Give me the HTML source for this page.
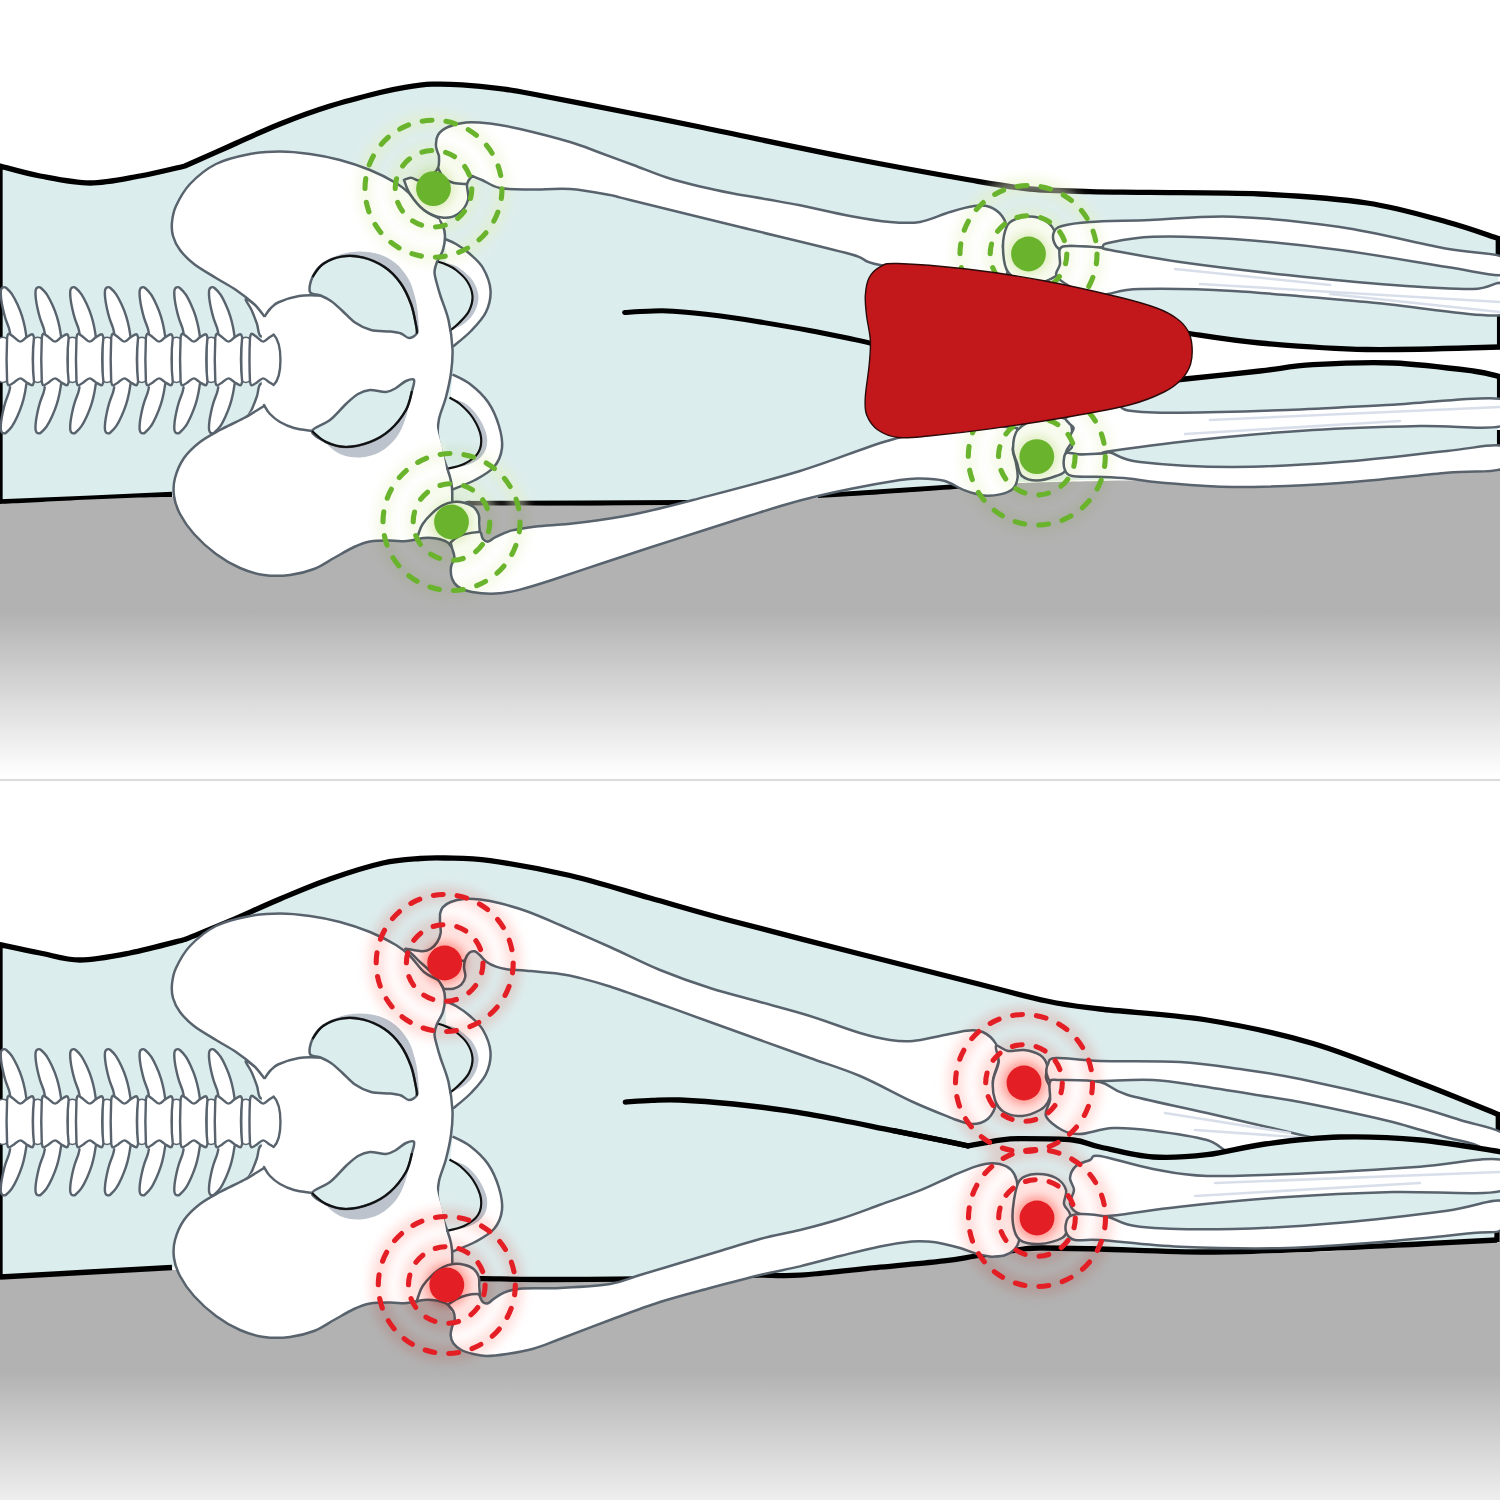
<!DOCTYPE html>
<html lang="en"><head><meta charset="utf-8"><title>Illustration</title><style>html,body{margin:0;padding:0;background:#fff}svg{display:block}</style></head><body>
<svg width="1500" height="1500" viewBox="0 0 1500 1500">
<defs>
<linearGradient id="gTop" gradientUnits="userSpaceOnUse" x1="0" y1="612" x2="0" y2="777"><stop offset="0" stop-color="#b2b2b2"/><stop offset="1" stop-color="#fff"/></linearGradient>
<linearGradient id="gBot" gradientUnits="userSpaceOnUse" x1="0" y1="1372" x2="0" y2="1536"><stop offset="0" stop-color="#b2b2b2"/><stop offset="1" stop-color="#fff"/></linearGradient>
<linearGradient id="gSep" gradientUnits="userSpaceOnUse" x1="0" y1="764" x2="0" y2="779"><stop offset="0" stop-color="#fff"/><stop offset="1" stop-color="#f0f0f0"/></linearGradient>
<filter id="bl6" filterUnits="userSpaceOnUse" x="0" y="0" width="1500" height="1500"><feGaussianBlur stdDeviation="6"/></filter>
<filter id="bl9" filterUnits="userSpaceOnUse" x="0" y="0" width="1500" height="1500"><feGaussianBlur stdDeviation="9"/></filter>
</defs>
<rect width="1500" height="1500" fill="#fff"/>
<g>
<path d="M0 166C6.7 167.7 25 173.2 40 176C55 178.8 73.3 183 90 183C106.7 183 124.2 178.8 140 176C155.8 173.2 177.5 167.7 185 166C192.5 162.7 214.2 153 230 146C245.8 139 263.3 130.7 280 124C296.7 117.3 313.3 111.2 330 106C346.7 100.8 367.5 95.6 380 92.5C392.5 89.4 396.3 88.7 405 87.3C413.7 85.9 422.5 84.6 432 84.2C441.5 83.8 450.7 84.1 462 84.8C473.3 85.5 488.7 87.1 500 88.6C511.3 90 508.3 89.4 530 93.5C551.7 97.6 601.7 107.4 630 113C658.3 118.6 663.3 119.5 700 127C736.7 134.5 805 149.2 850 158C895 166.8 940 174.8 970 180C1000 185.2 1010 187.1 1030 189C1050 190.9 1070 191 1090 191.6C1110 192.2 1121.7 192 1150 192.4C1178.3 192.8 1223.8 192.2 1260 194C1296.2 195.8 1335.8 198.3 1367 203C1398.2 207.7 1425.1 216.1 1447 222C1468.9 227.9 1489.8 235.8 1498.3 238.5L1498 469C1465 470.2 1366.3 474.2 1300 476C1233.7 477.8 1150 478.3 1100 479.5C1050 480.7 1024.2 481.8 1000 483C975.8 484.2 982.5 485 955 487C927.5 489 880.3 492.4 835 495C789.7 497.6 740.8 501.3 683 502.7C625.2 504.1 548.5 503.8 488 503.5C427.5 503.2 372.7 502.5 320 501C267.3 499.5 225.3 494.3 172 494.5C118.7 494.7 28.7 500.8 0 502Z" fill="#dcedee"/>
<path d="M1180 331C1182 331.5 1178.7 332 1192 334C1205.3 336 1230.8 340.4 1260 343C1289.2 345.6 1327 348.8 1367 349.5C1407 350.2 1477.8 347.4 1500 347L1500 376.7C1495.5 375.8 1490.8 373.3 1473 371C1455.2 368.7 1419.7 364.1 1393 363C1366.3 361.9 1335.2 363.4 1313 364.7C1290.8 366 1281.3 368.6 1260 371C1238.7 373.4 1200 377.3 1185 379C1170 380.7 1172.5 380.7 1170 381Z" fill="#fff"/>
<path d="M0 504L0 166C6.7 167.7 25 173.2 40 176C55 178.8 73.3 183 90 183C106.7 183 124.2 178.8 140 176C155.8 173.2 177.5 167.7 185 166C192.5 162.7 214.2 153 230 146C245.8 139 263.3 130.7 280 124C296.7 117.3 313.3 111.2 330 106C346.7 100.8 367.5 95.6 380 92.5C392.5 89.4 396.3 88.7 405 87.3C413.7 85.9 422.5 84.6 432 84.2C441.5 83.8 450.7 84.1 462 84.8C473.3 85.5 488.7 87.1 500 88.6C511.3 90 508.3 89.4 530 93.5C551.7 97.6 601.7 107.4 630 113C658.3 118.6 663.3 119.5 700 127C736.7 134.5 805 149.2 850 158C895 166.8 940 174.8 970 180C1000 185.2 1010 187.1 1030 189C1050 190.9 1070 191 1090 191.6C1110 192.2 1121.7 192 1150 192.4C1178.3 192.8 1223.8 192.2 1260 194C1296.2 195.8 1335.8 198.3 1367 203C1398.2 207.7 1425.1 216.1 1447 222C1468.9 227.9 1489.8 235.8 1498.3 238.5L1498.3 255" fill="none" stroke="#000" stroke-width="5.3" stroke-linejoin="miter"/>
<path d="M0 502C28.7 500.8 143.3 495.8 172 494.5" fill="none" stroke="#000" stroke-width="5.3"/>
<path d="M470 503.5C473 503.5 452.5 503.6 488 503.5C523.5 503.4 647.7 502.9 683 502.7C718.3 502.4 697.2 502.1 700 502" fill="none" stroke="#000" stroke-width="5.3"/>
<path d="M820 496C822.5 495.8 812.5 496.5 835 495C857.5 493.5 931.7 488.6 955 487C978.3 485.4 971.7 485.8 975 485.5" fill="none" stroke="#000" stroke-width="5.3"/>
<path d="M1180 331C1182 331.5 1178.7 332 1192 334C1205.3 336 1230.8 340.4 1260 343C1289.2 345.6 1327 348.8 1367 349.5C1407 350.2 1477.8 347.4 1500 347" fill="none" stroke="#000" stroke-width="5.3"/>
<path d="M1500 376.7C1495.5 375.8 1490.8 373.3 1473 371C1455.2 368.7 1419.7 364.1 1393 363C1366.3 361.9 1335.2 363.4 1313 364.7C1290.8 366 1281.3 368.6 1260 371C1238.7 373.4 1200 377.3 1185 379C1170 380.7 1172.5 380.7 1170 381" fill="none" stroke="#000" stroke-width="5.3"/>
<path d="M1499.6 310L1499.6 349M1499.6 374L1499.6 406M1499.6 430L1499.6 446M1499.6 463L1499.6 471" fill="none" stroke="#000" stroke-width="5.3"/>
<path d="M624.6 312.4C628.5 312.2 639.9 311.4 648 311.2C656.1 311 661.2 310.4 673 311.2C684.8 312 703.5 313.9 718.7 315.8C733.9 317.7 748.9 320.2 764 322.6C779.1 325.1 794.3 327.7 809.4 330.5C824.5 333.3 844.5 337.5 854.8 339.6C865.1 341.7 868.3 342.7 871 343.3" fill="none" stroke="#000" stroke-width="5" stroke-linecap="round"/>
<g filter="url(#bl6)" opacity="0.55" fill="none" stroke="#f7fbe9" stroke-width="15"><circle cx="433.5" cy="188.7" r="38.3"/><circle cx="433.5" cy="188.7" r="68.5"/><circle cx="433.5" cy="188.7" r="26" fill="#f7fbe9" stroke="none"/><circle cx="451.5" cy="522" r="38.3"/><circle cx="451.5" cy="522" r="68.5"/><circle cx="451.5" cy="522" r="26" fill="#f7fbe9" stroke="none"/><circle cx="1028.5" cy="254" r="38.3"/><circle cx="1028.5" cy="254" r="68.5"/><circle cx="1028.5" cy="254" r="26" fill="#f7fbe9" stroke="none"/><circle cx="1036.8" cy="456.6" r="38.3"/><circle cx="1036.8" cy="456.6" r="68.5"/><circle cx="1036.8" cy="456.6" r="26" fill="#f7fbe9" stroke="none"/></g>
<path d="M0 504C28.7 502.8 118.7 497.2 172 497C225.3 496.8 267.3 501.6 320 503C372.7 504.4 427.5 505.2 488 505.5C548.5 505.8 625.2 506.4 683 505C740.8 503.6 789.7 499.7 835 497C880.3 494.3 927.5 491.2 955 489C982.5 486.8 975.8 485.3 1000 484C1024.2 482.7 1050 482 1100 481C1150 480 1233.3 479.7 1300 478C1366.7 476.3 1466.7 472.2 1500 471L1500 779L0 779Z" fill="url(#gTop)"/>
<g><path d="M10.1 333.2C9.9 332.3 9.6 330.2 8.8 327.7C8 325.2 6.4 321.5 5.4 318.3C4.4 315.1 3.5 311.6 2.8 308.3C2.1 305 1.4 301.1 1.1 298.3C0.8 295.5 0.7 293.2 0.8 291.5C0.9 289.8 1.3 289 1.8 288.3C2.3 287.6 2.8 287.2 3.6 287.2C4.3 287.1 4.9 286.8 6.3 288C7.7 289.2 10.2 291.6 12.1 294.3C13.9 297 15.7 300.6 17.4 304.3C19.1 308 20.9 312.5 22.1 316.3C23.3 320.1 24.1 323.6 24.8 327C25.5 330.4 26.1 334.9 26.4 336.5L26.4 346L10.1 346Z" fill="#fff"/>
<path d="M10.1 333.2C9.9 332.3 9.6 330.2 8.8 327.7C8 325.2 6.4 321.5 5.4 318.3C4.4 315.1 3.5 311.6 2.8 308.3C2.1 305 1.4 301.1 1.1 298.3C0.8 295.5 0.7 293.2 0.8 291.5C0.9 289.8 1.3 289 1.8 288.3C2.3 287.6 2.8 287.2 3.6 287.2C4.3 287.1 4.9 286.8 6.3 288C7.7 289.2 10.2 291.6 12.1 294.3C13.9 297 15.7 300.6 17.4 304.3C19.1 308 20.9 312.5 22.1 316.3C23.3 320.1 24.1 323.6 24.8 327C25.5 330.4 26.1 334.9 26.4 336.5" fill="none" stroke="#58636d" stroke-width="2.4" stroke-linecap="round"/>
<path d="M10.1 387.3C9.9 388.2 9.6 390.3 8.8 392.8C8 395.3 6.4 399 5.4 402.2C4.4 405.4 3.5 408.9 2.8 412.2C2.1 415.5 1.4 419.4 1.1 422.2C0.8 425 0.7 427.3 0.8 429C0.9 430.7 1.3 431.5 1.8 432.2C2.3 432.9 2.8 433.2 3.6 433.3C4.3 433.4 4.9 433.7 6.3 432.5C7.7 431.3 10.2 428.9 12.1 426.2C13.9 423.5 15.7 419.9 17.4 416.2C19.1 412.5 20.9 408 22.1 404.2C23.3 400.4 24.1 396.9 24.8 393.5C25.5 390.1 26.1 385.6 26.4 384L26.4 374L10.1 374Z" fill="#fff"/>
<path d="M10.1 387.3C9.9 388.2 9.6 390.3 8.8 392.8C8 395.3 6.4 399 5.4 402.2C4.4 405.4 3.5 408.9 2.8 412.2C2.1 415.5 1.4 419.4 1.1 422.2C0.8 425 0.7 427.3 0.8 429C0.9 430.7 1.3 431.5 1.8 432.2C2.3 432.9 2.8 433.2 3.6 433.3C4.3 433.4 4.9 433.7 6.3 432.5C7.7 431.3 10.2 428.9 12.1 426.2C13.9 423.5 15.7 419.9 17.4 416.2C19.1 412.5 20.9 408 22.1 404.2C23.3 400.4 24.1 396.9 24.8 393.5C25.5 390.1 26.1 385.6 26.4 384" fill="none" stroke="#58636d" stroke-width="2.4" stroke-linecap="round"/>
<path d="M44.8 333.2C44.6 332.3 44.3 330.2 43.5 327.7C42.7 325.2 41.1 321.5 40.1 318.3C39.1 315.1 38.2 311.6 37.5 308.3C36.8 305 36.1 301.1 35.8 298.3C35.5 295.5 35.4 293.2 35.5 291.5C35.6 289.8 36 289 36.5 288.3C37 287.6 37.5 287.2 38.3 287.2C39 287.1 39.6 286.8 41 288C42.4 289.2 44.9 291.6 46.8 294.3C48.6 297 50.4 300.6 52.1 304.3C53.8 308 55.6 312.5 56.8 316.3C58 320.1 58.8 323.6 59.5 327C60.2 330.4 60.8 334.9 61.1 336.5L61.1 346L44.8 346Z" fill="#fff"/>
<path d="M44.8 333.2C44.6 332.3 44.3 330.2 43.5 327.7C42.7 325.2 41.1 321.5 40.1 318.3C39.1 315.1 38.2 311.6 37.5 308.3C36.8 305 36.1 301.1 35.8 298.3C35.5 295.5 35.4 293.2 35.5 291.5C35.6 289.8 36 289 36.5 288.3C37 287.6 37.5 287.2 38.3 287.2C39 287.1 39.6 286.8 41 288C42.4 289.2 44.9 291.6 46.8 294.3C48.6 297 50.4 300.6 52.1 304.3C53.8 308 55.6 312.5 56.8 316.3C58 320.1 58.8 323.6 59.5 327C60.2 330.4 60.8 334.9 61.1 336.5" fill="none" stroke="#58636d" stroke-width="2.4" stroke-linecap="round"/>
<path d="M44.8 387.3C44.6 388.2 44.3 390.3 43.5 392.8C42.7 395.3 41.1 399 40.1 402.2C39.1 405.4 38.2 408.9 37.5 412.2C36.8 415.5 36.1 419.4 35.8 422.2C35.5 425 35.4 427.3 35.5 429C35.6 430.7 36 431.5 36.5 432.2C37 432.9 37.5 433.2 38.3 433.3C39 433.4 39.6 433.7 41 432.5C42.4 431.3 44.9 428.9 46.8 426.2C48.6 423.5 50.4 419.9 52.1 416.2C53.8 412.5 55.6 408 56.8 404.2C58 400.4 58.8 396.9 59.5 393.5C60.2 390.1 60.8 385.6 61.1 384L61.1 374L44.8 374Z" fill="#fff"/>
<path d="M44.8 387.3C44.6 388.2 44.3 390.3 43.5 392.8C42.7 395.3 41.1 399 40.1 402.2C39.1 405.4 38.2 408.9 37.5 412.2C36.8 415.5 36.1 419.4 35.8 422.2C35.5 425 35.4 427.3 35.5 429C35.6 430.7 36 431.5 36.5 432.2C37 432.9 37.5 433.2 38.3 433.3C39 433.4 39.6 433.7 41 432.5C42.4 431.3 44.9 428.9 46.8 426.2C48.6 423.5 50.4 419.9 52.1 416.2C53.8 412.5 55.6 408 56.8 404.2C58 400.4 58.8 396.9 59.5 393.5C60.2 390.1 60.8 385.6 61.1 384" fill="none" stroke="#58636d" stroke-width="2.4" stroke-linecap="round"/>
<path d="M79.5 333.2C79.3 332.3 79 330.2 78.2 327.7C77.4 325.2 75.8 321.5 74.8 318.3C73.8 315.1 72.9 311.6 72.2 308.3C71.5 305 70.8 301.1 70.5 298.3C70.2 295.5 70.1 293.2 70.2 291.5C70.3 289.8 70.7 289 71.2 288.3C71.7 287.6 72.2 287.2 73 287.2C73.8 287.1 74.3 286.8 75.7 288C77.1 289.2 79.7 291.6 81.5 294.3C83.3 297 85.1 300.6 86.8 304.3C88.5 308 90.3 312.5 91.5 316.3C92.7 320.1 93.5 323.6 94.2 327C94.9 330.4 95.5 334.9 95.8 336.5L95.8 346L79.5 346Z" fill="#fff"/>
<path d="M79.5 333.2C79.3 332.3 79 330.2 78.2 327.7C77.4 325.2 75.8 321.5 74.8 318.3C73.8 315.1 72.9 311.6 72.2 308.3C71.5 305 70.8 301.1 70.5 298.3C70.2 295.5 70.1 293.2 70.2 291.5C70.3 289.8 70.7 289 71.2 288.3C71.7 287.6 72.2 287.2 73 287.2C73.8 287.1 74.3 286.8 75.7 288C77.1 289.2 79.7 291.6 81.5 294.3C83.3 297 85.1 300.6 86.8 304.3C88.5 308 90.3 312.5 91.5 316.3C92.7 320.1 93.5 323.6 94.2 327C94.9 330.4 95.5 334.9 95.8 336.5" fill="none" stroke="#58636d" stroke-width="2.4" stroke-linecap="round"/>
<path d="M79.5 387.3C79.3 388.2 79 390.3 78.2 392.8C77.4 395.3 75.8 399 74.8 402.2C73.8 405.4 72.9 408.9 72.2 412.2C71.5 415.5 70.8 419.4 70.5 422.2C70.2 425 70.1 427.3 70.2 429C70.3 430.7 70.7 431.5 71.2 432.2C71.7 432.9 72.2 433.2 73 433.3C73.8 433.4 74.3 433.7 75.7 432.5C77.1 431.3 79.7 428.9 81.5 426.2C83.3 423.5 85.1 419.9 86.8 416.2C88.5 412.5 90.3 408 91.5 404.2C92.7 400.4 93.5 396.9 94.2 393.5C94.9 390.1 95.5 385.6 95.8 384L95.8 374L79.5 374Z" fill="#fff"/>
<path d="M79.5 387.3C79.3 388.2 79 390.3 78.2 392.8C77.4 395.3 75.8 399 74.8 402.2C73.8 405.4 72.9 408.9 72.2 412.2C71.5 415.5 70.8 419.4 70.5 422.2C70.2 425 70.1 427.3 70.2 429C70.3 430.7 70.7 431.5 71.2 432.2C71.7 432.9 72.2 433.2 73 433.3C73.8 433.4 74.3 433.7 75.7 432.5C77.1 431.3 79.7 428.9 81.5 426.2C83.3 423.5 85.1 419.9 86.8 416.2C88.5 412.5 90.3 408 91.5 404.2C92.7 400.4 93.5 396.9 94.2 393.5C94.9 390.1 95.5 385.6 95.8 384" fill="none" stroke="#58636d" stroke-width="2.4" stroke-linecap="round"/>
<path d="M114.2 333.2C114 332.3 113.7 330.2 112.9 327.7C112.1 325.2 110.5 321.5 109.5 318.3C108.5 315.1 107.6 311.6 106.9 308.3C106.2 305 105.5 301.1 105.2 298.3C104.9 295.5 104.8 293.2 104.9 291.5C105 289.8 105.4 289 105.9 288.3C106.4 287.6 107 287.2 107.7 287.2C108.5 287.1 109 286.8 110.4 288C111.8 289.2 114.4 291.6 116.2 294.3C118 297 119.8 300.6 121.5 304.3C123.2 308 125 312.5 126.2 316.3C127.4 320.1 128.2 323.6 128.9 327C129.6 330.4 130.2 334.9 130.5 336.5L130.5 346L114.2 346Z" fill="#fff"/>
<path d="M114.2 333.2C114 332.3 113.7 330.2 112.9 327.7C112.1 325.2 110.5 321.5 109.5 318.3C108.5 315.1 107.6 311.6 106.9 308.3C106.2 305 105.5 301.1 105.2 298.3C104.9 295.5 104.8 293.2 104.9 291.5C105 289.8 105.4 289 105.9 288.3C106.4 287.6 107 287.2 107.7 287.2C108.5 287.1 109 286.8 110.4 288C111.8 289.2 114.4 291.6 116.2 294.3C118 297 119.8 300.6 121.5 304.3C123.2 308 125 312.5 126.2 316.3C127.4 320.1 128.2 323.6 128.9 327C129.6 330.4 130.2 334.9 130.5 336.5" fill="none" stroke="#58636d" stroke-width="2.4" stroke-linecap="round"/>
<path d="M114.2 387.3C114 388.2 113.7 390.3 112.9 392.8C112.1 395.3 110.5 399 109.5 402.2C108.5 405.4 107.6 408.9 106.9 412.2C106.2 415.5 105.5 419.4 105.2 422.2C104.9 425 104.8 427.3 104.9 429C105 430.7 105.4 431.5 105.9 432.2C106.4 432.9 107 433.2 107.7 433.3C108.5 433.4 109 433.7 110.4 432.5C111.8 431.3 114.4 428.9 116.2 426.2C118 423.5 119.8 419.9 121.5 416.2C123.2 412.5 125 408 126.2 404.2C127.4 400.4 128.2 396.9 128.9 393.5C129.6 390.1 130.2 385.6 130.5 384L130.5 374L114.2 374Z" fill="#fff"/>
<path d="M114.2 387.3C114 388.2 113.7 390.3 112.9 392.8C112.1 395.3 110.5 399 109.5 402.2C108.5 405.4 107.6 408.9 106.9 412.2C106.2 415.5 105.5 419.4 105.2 422.2C104.9 425 104.8 427.3 104.9 429C105 430.7 105.4 431.5 105.9 432.2C106.4 432.9 107 433.2 107.7 433.3C108.5 433.4 109 433.7 110.4 432.5C111.8 431.3 114.4 428.9 116.2 426.2C118 423.5 119.8 419.9 121.5 416.2C123.2 412.5 125 408 126.2 404.2C127.4 400.4 128.2 396.9 128.9 393.5C129.6 390.1 130.2 385.6 130.5 384" fill="none" stroke="#58636d" stroke-width="2.4" stroke-linecap="round"/>
<path d="M148.9 333.2C148.7 332.3 148.4 330.2 147.6 327.7C146.8 325.2 145.2 321.5 144.2 318.3C143.2 315.1 142.3 311.6 141.6 308.3C140.9 305 140.2 301.1 139.9 298.3C139.6 295.5 139.5 293.2 139.6 291.5C139.7 289.8 140.1 289 140.6 288.3C141.1 287.6 141.7 287.2 142.4 287.2C143.2 287.1 143.7 286.8 145.1 288C146.5 289.2 149.1 291.6 150.9 294.3C152.8 297 154.5 300.6 156.2 304.3C157.9 308 159.7 312.5 160.9 316.3C162.1 320.1 162.9 323.6 163.6 327C164.3 330.4 164.9 334.9 165.2 336.5L165.2 346L148.9 346Z" fill="#fff"/>
<path d="M148.9 333.2C148.7 332.3 148.4 330.2 147.6 327.7C146.8 325.2 145.2 321.5 144.2 318.3C143.2 315.1 142.3 311.6 141.6 308.3C140.9 305 140.2 301.1 139.9 298.3C139.6 295.5 139.5 293.2 139.6 291.5C139.7 289.8 140.1 289 140.6 288.3C141.1 287.6 141.7 287.2 142.4 287.2C143.2 287.1 143.7 286.8 145.1 288C146.5 289.2 149.1 291.6 150.9 294.3C152.8 297 154.5 300.6 156.2 304.3C157.9 308 159.7 312.5 160.9 316.3C162.1 320.1 162.9 323.6 163.6 327C164.3 330.4 164.9 334.9 165.2 336.5" fill="none" stroke="#58636d" stroke-width="2.4" stroke-linecap="round"/>
<path d="M148.9 387.3C148.7 388.2 148.4 390.3 147.6 392.8C146.8 395.3 145.2 399 144.2 402.2C143.2 405.4 142.3 408.9 141.6 412.2C140.9 415.5 140.2 419.4 139.9 422.2C139.6 425 139.5 427.3 139.6 429C139.7 430.7 140.1 431.5 140.6 432.2C141.1 432.9 141.7 433.2 142.4 433.3C143.2 433.4 143.7 433.7 145.1 432.5C146.5 431.3 149.1 428.9 150.9 426.2C152.8 423.5 154.5 419.9 156.2 416.2C157.9 412.5 159.7 408 160.9 404.2C162.1 400.4 162.9 396.9 163.6 393.5C164.3 390.1 164.9 385.6 165.2 384L165.2 374L148.9 374Z" fill="#fff"/>
<path d="M148.9 387.3C148.7 388.2 148.4 390.3 147.6 392.8C146.8 395.3 145.2 399 144.2 402.2C143.2 405.4 142.3 408.9 141.6 412.2C140.9 415.5 140.2 419.4 139.9 422.2C139.6 425 139.5 427.3 139.6 429C139.7 430.7 140.1 431.5 140.6 432.2C141.1 432.9 141.7 433.2 142.4 433.3C143.2 433.4 143.7 433.7 145.1 432.5C146.5 431.3 149.1 428.9 150.9 426.2C152.8 423.5 154.5 419.9 156.2 416.2C157.9 412.5 159.7 408 160.9 404.2C162.1 400.4 162.9 396.9 163.6 393.5C164.3 390.1 164.9 385.6 165.2 384" fill="none" stroke="#58636d" stroke-width="2.4" stroke-linecap="round"/>
<path d="M183.6 333.2C183.4 332.3 183.1 330.2 182.3 327.7C181.5 325.2 179.9 321.5 178.9 318.3C177.9 315.1 177 311.6 176.3 308.3C175.6 305 174.9 301.1 174.6 298.3C174.3 295.5 174.2 293.2 174.3 291.5C174.4 289.8 174.8 289 175.3 288.3C175.8 287.6 176.4 287.2 177.1 287.2C177.9 287.1 178.4 286.8 179.8 288C181.2 289.2 183.8 291.6 185.6 294.3C187.5 297 189.2 300.6 190.9 304.3C192.6 308 194.4 312.5 195.6 316.3C196.8 320.1 197.6 323.6 198.3 327C199 330.4 199.6 334.9 199.9 336.5L199.9 346L183.6 346Z" fill="#fff"/>
<path d="M183.6 333.2C183.4 332.3 183.1 330.2 182.3 327.7C181.5 325.2 179.9 321.5 178.9 318.3C177.9 315.1 177 311.6 176.3 308.3C175.6 305 174.9 301.1 174.6 298.3C174.3 295.5 174.2 293.2 174.3 291.5C174.4 289.8 174.8 289 175.3 288.3C175.8 287.6 176.4 287.2 177.1 287.2C177.9 287.1 178.4 286.8 179.8 288C181.2 289.2 183.8 291.6 185.6 294.3C187.5 297 189.2 300.6 190.9 304.3C192.6 308 194.4 312.5 195.6 316.3C196.8 320.1 197.6 323.6 198.3 327C199 330.4 199.6 334.9 199.9 336.5" fill="none" stroke="#58636d" stroke-width="2.4" stroke-linecap="round"/>
<path d="M183.6 387.3C183.4 388.2 183.1 390.3 182.3 392.8C181.5 395.3 179.9 399 178.9 402.2C177.9 405.4 177 408.9 176.3 412.2C175.6 415.5 174.9 419.4 174.6 422.2C174.3 425 174.2 427.3 174.3 429C174.4 430.7 174.8 431.5 175.3 432.2C175.8 432.9 176.4 433.2 177.1 433.3C177.9 433.4 178.4 433.7 179.8 432.5C181.2 431.3 183.8 428.9 185.6 426.2C187.5 423.5 189.2 419.9 190.9 416.2C192.6 412.5 194.4 408 195.6 404.2C196.8 400.4 197.6 396.9 198.3 393.5C199 390.1 199.6 385.6 199.9 384L199.9 374L183.6 374Z" fill="#fff"/>
<path d="M183.6 387.3C183.4 388.2 183.1 390.3 182.3 392.8C181.5 395.3 179.9 399 178.9 402.2C177.9 405.4 177 408.9 176.3 412.2C175.6 415.5 174.9 419.4 174.6 422.2C174.3 425 174.2 427.3 174.3 429C174.4 430.7 174.8 431.5 175.3 432.2C175.8 432.9 176.4 433.2 177.1 433.3C177.9 433.4 178.4 433.7 179.8 432.5C181.2 431.3 183.8 428.9 185.6 426.2C187.5 423.5 189.2 419.9 190.9 416.2C192.6 412.5 194.4 408 195.6 404.2C196.8 400.4 197.6 396.9 198.3 393.5C199 390.1 199.6 385.6 199.9 384" fill="none" stroke="#58636d" stroke-width="2.4" stroke-linecap="round"/>
<path d="M218.3 333.2C218.1 332.3 217.8 330.2 217 327.7C216.2 325.2 214.6 321.5 213.6 318.3C212.6 315.1 211.7 311.6 211 308.3C210.3 305 209.6 301.1 209.3 298.3C209 295.5 208.9 293.2 209 291.5C209.1 289.8 209.5 289 210 288.3C210.5 287.6 211.1 287.2 211.8 287.2C212.6 287.1 213.1 286.8 214.5 288C215.9 289.2 218.5 291.6 220.3 294.3C222.2 297 223.9 300.6 225.6 304.3C227.3 308 229.1 312.5 230.3 316.3C231.5 320.1 232.3 323.6 233 327C233.7 330.4 234.3 334.9 234.6 336.5L234.6 346L218.3 346Z" fill="#fff"/>
<path d="M218.3 333.2C218.1 332.3 217.8 330.2 217 327.7C216.2 325.2 214.6 321.5 213.6 318.3C212.6 315.1 211.7 311.6 211 308.3C210.3 305 209.6 301.1 209.3 298.3C209 295.5 208.9 293.2 209 291.5C209.1 289.8 209.5 289 210 288.3C210.5 287.6 211.1 287.2 211.8 287.2C212.6 287.1 213.1 286.8 214.5 288C215.9 289.2 218.5 291.6 220.3 294.3C222.2 297 223.9 300.6 225.6 304.3C227.3 308 229.1 312.5 230.3 316.3C231.5 320.1 232.3 323.6 233 327C233.7 330.4 234.3 334.9 234.6 336.5" fill="none" stroke="#58636d" stroke-width="2.4" stroke-linecap="round"/>
<path d="M218.3 387.3C218.1 388.2 217.8 390.3 217 392.8C216.2 395.3 214.6 399 213.6 402.2C212.6 405.4 211.7 408.9 211 412.2C210.3 415.5 209.6 419.4 209.3 422.2C209 425 208.9 427.3 209 429C209.1 430.7 209.5 431.5 210 432.2C210.5 432.9 211.1 433.2 211.8 433.3C212.6 433.4 213.1 433.7 214.5 432.5C215.9 431.3 218.5 428.9 220.3 426.2C222.2 423.5 223.9 419.9 225.6 416.2C227.3 412.5 229.1 408 230.3 404.2C231.5 400.4 232.3 396.9 233 393.5C233.7 390.1 234.3 385.6 234.6 384L234.6 374L218.3 374Z" fill="#fff"/>
<path d="M218.3 387.3C218.1 388.2 217.8 390.3 217 392.8C216.2 395.3 214.6 399 213.6 402.2C212.6 405.4 211.7 408.9 211 412.2C210.3 415.5 209.6 419.4 209.3 422.2C209 425 208.9 427.3 209 429C209.1 430.7 209.5 431.5 210 432.2C210.5 432.9 211.1 433.2 211.8 433.3C212.6 433.4 213.1 433.7 214.5 432.5C215.9 431.3 218.5 428.9 220.3 426.2C222.2 423.5 223.9 419.9 225.6 416.2C227.3 412.5 229.1 408 230.3 404.2C231.5 400.4 232.3 396.9 233 393.5C233.7 390.1 234.3 385.6 234.6 384" fill="none" stroke="#58636d" stroke-width="2.4" stroke-linecap="round"/>
<path d="M246 299C244.2 299 250.2 306.8 252 311C253.8 315.2 255.6 319.8 257 324C258.4 328.2 258 334 260.5 336C263 338 270.6 338 272 336C273.4 334 270.6 328.2 269 324C267.4 319.8 266.3 315.2 262.5 311C258.7 306.8 247.8 299 246 299Z" fill="#fff" stroke="#58636d" stroke-width="2.4"/>
<path d="M246 421C244.2 421 250.2 413.2 252 409C253.8 404.8 255.6 400.2 257 396C258.4 391.8 258 386 260.5 384C263 382 270.6 382 272 384C273.4 386 270.6 391.8 269 396C267.4 400.2 266.3 404.8 262.5 409C258.7 413.2 247.8 421 246 421Z" fill="#fff" stroke="#58636d" stroke-width="2.4"/>
<path d="M-1.3 339C0.7 336.5 5.2 336.5 7.2 339L7.2 380.5C5.2 383 0.7 383 -1.3 380.5Z" fill="#fff" stroke="#58636d" stroke-width="1.5"/>
<path d="M33.4 339C35.4 336.5 39.9 336.5 41.9 339L41.9 380.5C39.9 383 35.4 383 33.4 380.5Z" fill="#fff" stroke="#58636d" stroke-width="1.5"/>
<path d="M68.1 339C70.1 336.5 74.6 336.5 76.6 339L76.6 380.5C74.6 383 70.1 383 68.1 380.5Z" fill="#fff" stroke="#58636d" stroke-width="1.5"/>
<path d="M102.8 339C104.8 336.5 109.3 336.5 111.3 339L111.3 380.5C109.3 383 104.8 383 102.8 380.5Z" fill="#fff" stroke="#58636d" stroke-width="1.5"/>
<path d="M137.5 339C139.5 336.5 144 336.5 146 339L146 380.5C144 383 139.5 383 137.5 380.5Z" fill="#fff" stroke="#58636d" stroke-width="1.5"/>
<path d="M172.2 339C174.2 336.5 178.7 336.5 180.7 339L180.7 380.5C178.7 383 174.2 383 172.2 380.5Z" fill="#fff" stroke="#58636d" stroke-width="1.5"/>
<path d="M206.9 339C208.9 336.5 213.4 336.5 215.4 339L215.4 380.5C213.4 383 208.9 383 206.9 380.5Z" fill="#fff" stroke="#58636d" stroke-width="1.5"/>
<path d="M241.6 339C243.6 336.5 248.1 336.5 250.1 339L250.1 380.5C248.1 383 243.6 383 241.6 380.5Z" fill="#fff" stroke="#58636d" stroke-width="1.5"/>
<path d="M7.1 337.5C7.4 336.9 7.6 333.8 8.8 333.8C10 333.8 12.4 336.1 14.3 337.4C16.2 338.7 18.3 341.6 20.3 341.6C22.3 341.6 24.3 338.6 26.3 337.4C28.3 336.2 30.8 334.2 32.1 334.2C33.4 334.2 33.7 336.9 34 337.5C32.6 350 32.6 369 34 381.8C33.7 382.4 33.4 385.1 32.1 385.2C30.8 385.3 28.3 383.3 26.3 382.2C24.3 381.1 22.3 378.4 20.3 378.4C18.3 378.4 16.2 381 14.3 382.2C12.4 383.4 10 385.5 8.8 385.4C7.6 385.3 7.4 382.4 7.1 381.8C6.5 369 6.5 350 7.1 337.5Z" fill="#fff" stroke="#58636d" stroke-width="2.4" stroke-linejoin="round"/>
<path d="M41.8 337.5C42.1 336.9 42.3 333.8 43.5 333.8C44.7 333.8 47.1 336.1 49 337.4C50.9 338.7 53 341.6 55 341.6C57 341.6 59 338.6 61 337.4C63 336.2 65.5 334.2 66.8 334.2C68.1 334.2 68.4 336.9 68.7 337.5C67.3 350 67.3 369 68.7 381.8C68.4 382.4 68.1 385.1 66.8 385.2C65.5 385.3 63 383.3 61 382.2C59 381.1 57 378.4 55 378.4C53 378.4 50.9 381 49 382.2C47.1 383.4 44.7 385.5 43.5 385.4C42.3 385.3 42.1 382.4 41.8 381.8C41.2 369 41.2 350 41.8 337.5Z" fill="#fff" stroke="#58636d" stroke-width="2.4" stroke-linejoin="round"/>
<path d="M76.5 337.5C76.8 336.9 77 333.8 78.2 333.8C79.4 333.8 81.8 336.1 83.7 337.4C85.6 338.7 87.7 341.6 89.7 341.6C91.7 341.6 93.7 338.6 95.7 337.4C97.7 336.2 100.2 334.2 101.5 334.2C102.8 334.2 103.1 336.9 103.4 337.5C102 350 102 369 103.4 381.8C103.1 382.4 102.8 385.1 101.5 385.2C100.2 385.3 97.7 383.3 95.7 382.2C93.7 381.1 91.7 378.4 89.7 378.4C87.7 378.4 85.6 381 83.7 382.2C81.8 383.4 79.4 385.5 78.2 385.4C77 385.3 76.8 382.4 76.5 381.8C75.9 369 75.9 350 76.5 337.5Z" fill="#fff" stroke="#58636d" stroke-width="2.4" stroke-linejoin="round"/>
<path d="M111.2 337.5C111.5 336.9 111.7 333.8 112.9 333.8C114.1 333.8 116.5 336.1 118.4 337.4C120.3 338.7 122.4 341.6 124.4 341.6C126.4 341.6 128.4 338.6 130.4 337.4C132.4 336.2 134.9 334.2 136.2 334.2C137.5 334.2 137.8 336.9 138.1 337.5C136.7 350 136.7 369 138.1 381.8C137.8 382.4 137.5 385.1 136.2 385.2C134.9 385.3 132.4 383.3 130.4 382.2C128.4 381.1 126.4 378.4 124.4 378.4C122.4 378.4 120.3 381 118.4 382.2C116.5 383.4 114.1 385.5 112.9 385.4C111.7 385.3 111.5 382.4 111.2 381.8C110.6 369 110.6 350 111.2 337.5Z" fill="#fff" stroke="#58636d" stroke-width="2.4" stroke-linejoin="round"/>
<path d="M145.9 337.5C146.2 336.9 146.4 333.8 147.6 333.8C148.8 333.8 151.2 336.1 153.1 337.4C155 338.7 157.1 341.6 159.1 341.6C161.1 341.6 163.1 338.6 165.1 337.4C167.1 336.2 169.6 334.2 170.9 334.2C172.2 334.2 172.5 336.9 172.8 337.5C171.4 350 171.4 369 172.8 381.8C172.5 382.4 172.2 385.1 170.9 385.2C169.6 385.3 167.1 383.3 165.1 382.2C163.1 381.1 161.1 378.4 159.1 378.4C157.1 378.4 155 381 153.1 382.2C151.2 383.4 148.8 385.5 147.6 385.4C146.4 385.3 146.2 382.4 145.9 381.8C145.3 369 145.3 350 145.9 337.5Z" fill="#fff" stroke="#58636d" stroke-width="2.4" stroke-linejoin="round"/>
<path d="M180.6 337.5C180.9 336.9 181.1 333.8 182.3 333.8C183.5 333.8 185.9 336.1 187.8 337.4C189.7 338.7 191.8 341.6 193.8 341.6C195.8 341.6 197.8 338.6 199.8 337.4C201.8 336.2 204.3 334.2 205.6 334.2C206.9 334.2 207.2 336.9 207.5 337.5C206.1 350 206.1 369 207.5 381.8C207.2 382.4 206.9 385.1 205.6 385.2C204.3 385.3 201.8 383.3 199.8 382.2C197.8 381.1 195.8 378.4 193.8 378.4C191.8 378.4 189.7 381 187.8 382.2C185.9 383.4 183.5 385.5 182.3 385.4C181.1 385.3 180.9 382.4 180.6 381.8C180 369 180 350 180.6 337.5Z" fill="#fff" stroke="#58636d" stroke-width="2.4" stroke-linejoin="round"/>
<path d="M215.3 337.5C215.6 336.9 215.8 333.8 217 333.8C218.2 333.8 220.6 336.1 222.5 337.4C224.4 338.7 226.5 341.6 228.5 341.6C230.5 341.6 232.5 338.6 234.5 337.4C236.5 336.2 239 334.2 240.3 334.2C241.6 334.2 241.9 336.9 242.2 337.5C240.8 350 240.8 369 242.2 381.8C241.9 382.4 241.6 385.1 240.3 385.2C239 385.3 236.5 383.3 234.5 382.2C232.5 381.1 230.5 378.4 228.5 378.4C226.5 378.4 224.4 381 222.5 382.2C220.6 383.4 218.2 385.5 217 385.4C215.8 385.3 215.6 382.4 215.3 381.8C214.7 369 214.7 350 215.3 337.5Z" fill="#fff" stroke="#58636d" stroke-width="2.4" stroke-linejoin="round"/>
<path d="M402 192C407.3 190.7 414 192.3 420 192C426 191.7 432.7 189.7 438 190C443.3 190.3 449.2 191.3 452 194C454.8 196.7 456 201.7 455 206C454 210.3 447.8 214.3 446 220C444.2 225.7 445.5 233 444 240C442.5 247 438.5 256 437 262C435.5 268 434.3 270 435 276C435.7 282 438.7 290.3 441 298C443.3 305.7 447.1 313.5 449 322C450.9 330.5 452.2 340.5 452.5 349C452.8 357.5 452.1 365 451 373C449.9 381 448 389.3 446 397C444 404.7 440.3 412.5 439 419C437.7 425.5 437.3 429.8 438 436C438.7 442.2 441 449.2 443 456C445 462.8 448.3 469.7 450 477C451.7 484.3 449.7 495.5 453 500C456.3 504.5 465.5 500.7 470 504C474.5 507.3 478.7 515 480 520C481.3 525 480.7 531.3 478 534C475.3 536.7 468.3 534 464 536C459.7 538 457.7 546.7 452 546C446.3 545.3 437.8 534.3 430 532C422.2 529.7 413.3 542.3 405 532C396.7 521.7 380.8 485.3 380 470C379.2 454.7 394.7 451.7 400 440C405.3 428.3 409.3 413.3 412 400C414.7 386.7 415.3 373.3 416 360C416.7 346.7 417.3 331.7 416 320C414.7 308.3 412 299.7 408 290C404 280.3 396.7 272 392 262C387.3 252 380.7 240.3 380 230C379.3 219.7 384.3 206.3 388 200C391.7 193.7 396.7 193.3 402 192Z" fill="#fff"/>
<path d="M445 239C446.8 239.8 451.8 241.5 456 244C460.2 246.5 465.5 250 470 254C474.5 258 479.6 262 483 268C486.4 274 490 282.7 490.5 290C491 297.3 489.2 305.2 486 312C482.8 318.8 476.5 325.2 471 331C465.5 336.8 456 343.9 453 346.5L449.5 331Z" fill="#fff"/>
<path d="M437.5 261.5C438.9 262 442.9 263.1 446 264.5C449.1 265.9 452.5 267.2 456 270C459.5 272.8 464.2 276.7 467 281C469.8 285.3 472.2 291 472.5 296C472.8 301 471.2 306.5 469 311C466.8 315.5 462.2 319.7 459 323C455.8 326.3 451.1 329.7 449.5 331Z" fill="#dcedee"/>
<path d="M437.5 261.5C438.9 262 442.9 263.1 446 264.5C449.1 265.9 452.5 267.2 456 270C459.5 272.8 464.2 276.7 467 281C469.8 285.3 472.2 291 472.5 296C472.8 301 471.2 306.5 469 311C466.8 315.5 462.2 319.7 459 323C455.8 326.3 451.1 329.7 449.5 331C452.1 329.7 460.8 326.3 465 323C469.2 319.7 472.8 315.5 475 311C477.2 306.5 478.8 301 478.5 296C478.2 291 475.8 285.3 473 281C470.2 276.7 465.5 272.8 462 270C458.5 267.2 456.1 265.9 452 264.5C447.9 263.1 439.9 262 437.5 261.5Z" fill="#bcc3cd"/>
<path d="M437.5 261.5C438.9 262 442.9 263.1 446 264.5C449.1 265.9 452.5 267.2 456 270C459.5 272.8 464.2 276.7 467 281C469.8 285.3 472.2 291 472.5 296C472.8 301 471.2 306.5 469 311C466.8 315.5 462.2 319.7 459 323C455.8 326.3 451.1 329.7 449.5 331" fill="none" stroke="#111" stroke-width="2.2"/>
<path d="M445 239C446.8 239.8 451.8 241.5 456 244C460.2 246.5 465.5 250 470 254C474.5 258 479.6 262 483 268C486.4 274 490 282.7 490.5 290C491 297.3 489.2 305.2 486 312C482.8 318.8 476.5 325.2 471 331C465.5 336.8 456 343.9 453 346.5" fill="none" stroke="#58636d" stroke-width="2.5"/>
<path d="M452.5 374.5C455.4 376.1 464.1 379.4 470 384C475.9 388.6 483.2 395 488 402C492.8 409 496.7 418.3 499 426C501.3 433.7 502.8 441.2 502 448C501.2 454.8 498.5 461.7 494 467C489.5 472.3 481.9 476.2 475 480C468.1 483.8 456.2 487.9 452.5 489.5L444 469.5Z" fill="#fff"/>
<path d="M449.5 397.5C451.2 398.6 456.1 400.6 460 404C463.9 407.4 469.5 412.5 473 418C476.5 423.5 480.2 431.2 481 437C481.8 442.8 480.8 448.5 478 453C475.2 457.5 469.7 461.2 464 464C458.3 466.8 447.3 468.6 444 469.5Z" fill="#dcedee"/>
<path d="M449.5 397.5C451.2 398.6 456.1 400.6 460 404C463.9 407.4 469.5 412.5 473 418C476.5 423.5 480.2 431.2 481 437C481.8 442.8 480.8 448.5 478 453C475.2 457.5 469.7 461.2 464 464C458.3 466.8 447.3 468.6 444 469.5C448.3 468.6 463.3 466.8 470 464C476.7 461.2 481.2 457.5 484 453C486.8 448.5 487.8 442.8 487 437C486.2 431.2 482.5 423.5 479 418C475.5 412.5 470.9 407.4 466 404C461.1 400.6 452.2 398.6 449.5 397.5Z" fill="#bcc3cd"/>
<path d="M449.5 397.5C451.2 398.6 456.1 400.6 460 404C463.9 407.4 469.5 412.5 473 418C476.5 423.5 480.2 431.2 481 437C481.8 442.8 480.8 448.5 478 453C475.2 457.5 469.7 461.2 464 464C458.3 466.8 447.3 468.6 444 469.5" fill="none" stroke="#111" stroke-width="2.2"/>
<path d="M452.5 374.5C455.4 376.1 464.1 379.4 470 384C475.9 388.6 483.2 395 488 402C492.8 409 496.7 418.3 499 426C501.3 433.7 502.8 441.2 502 448C501.2 454.8 498.5 461.7 494 467C489.5 472.3 481.9 476.2 475 480C468.1 483.8 456.2 487.9 452.5 489.5" fill="none" stroke="#58636d" stroke-width="2.5"/>
<path d="M438 218C438.8 219.3 441.8 223 443 226C444.2 229 445 232 445 236C445 240 444.3 245.7 443 250C441.7 254.3 438.4 258.3 437 262C435.6 265.7 434.5 268.3 434.5 272C434.5 275.7 436 280 437 284C438 288 438.6 290 440.5 296C442.4 302 446.5 311.2 448.5 320C450.5 328.8 452.1 340.2 452.5 349C452.9 357.8 452.1 365 451 373C449.9 381 448 389.3 446 397C444 404.7 440.3 412.5 439 419C437.7 425.5 437.3 429.8 438 436C438.7 442.2 441 449.2 443 456C445 462.8 448.5 471.7 450 477C451.5 482.3 451.6 484 452 488C452.4 492 452.2 498.8 452.3 501" fill="none" stroke="#58636d" stroke-width="2.5" stroke-linecap="round"/>
<path d="M264 316C253 311.7 258.7 308.3 254 304C249.3 299.7 242.3 294.3 236 290C229.7 285.7 223 282.3 216 278C209 273.7 200 268.7 194 264C188 259.3 183.5 254.7 180 250C176.5 245.3 174.3 240.7 173 236C171.7 231.3 171.5 227 172 222C172.5 217 173 212.3 176 206C179 199.7 183.3 191 190 184C196.7 177 206 169 216 164C226 159 239.3 156.1 250 154C260.7 151.9 270 151.5 280 151.5C290 151.5 300 152.6 310 154C320 155.4 330 157.3 340 160C350 162.7 360.7 166.2 370 170C379.3 173.8 389.3 179 396 183C402.7 187 405.3 189.5 410 194C414.7 198.5 419.3 206 424 210C428.7 214 435.3 213 438 218C440.7 223 441.3 232.7 440 240C438.7 247.3 433.7 252 430 262C426.3 272 420 287.7 418 300C416 312.3 424.3 329.3 418 336C411.7 342.7 396.3 341 380 340C363.7 339 339.3 334 320 330C300.7 326 275 320.3 264 316Z" fill="#fff"/>
<path d="M264 316C262.3 314 258.7 308.3 254 304C249.3 299.7 242.3 294.3 236 290C229.7 285.7 223 282.3 216 278C209 273.7 200 268.7 194 264C188 259.3 183.5 254.7 180 250C176.5 245.3 174.3 240.7 173 236C171.7 231.3 171.5 227 172 222C172.5 217 173 212.3 176 206C179 199.7 183.3 191 190 184C196.7 177 206 169 216 164C226 159 239.3 156.1 250 154C260.7 151.9 270 151.5 280 151.5C290 151.5 300 152.6 310 154C320 155.4 330 157.3 340 160C350 162.7 360.7 166.2 370 170C379.3 173.8 389.3 179 396 183C402.7 187 405.3 189.5 410 194C414.7 198.5 419.3 206 424 210C428.7 214 435.7 216.7 438 218" fill="none" stroke="#58636d" stroke-width="2.5" stroke-linecap="round"/>
<path d="M264 406C249.7 409 251.3 414 244 418C236.7 422 227.3 426 220 430C212.7 434 206 437.3 200 442C194 446.7 188.2 452 184 458C179.8 464 176.7 471.7 175 478C173.3 484.3 173.2 490 174 496C174.8 502 176.7 507.7 180 514C183.3 520.3 188 527.3 194 534C200 540.7 208.3 548.3 216 554C223.7 559.7 232 564.5 240 568C248 571.5 255.7 573.8 264 575C272.3 576.2 281.7 576 290 575C298.3 574 306.7 571.8 314 569C321.3 566.2 327.3 561.7 334 558C340.7 554.3 348 549.8 354 547C360 544.2 364 542.6 370 541.5C376 540.4 384.3 540.5 390 540.5C395.7 540.5 400.1 541.4 404 541.3C407.9 541.2 410 540.5 413.3 540C416.6 539.5 420.9 538.3 424 538C427.1 537.7 429.3 537.8 432 538C434.7 538.2 437.3 538.5 440 539.3C442.7 540.1 446 541.2 448 542.7C450 544.2 451.7 555.1 452 548C452.3 540.9 452 518 450 500C448 482 445.8 460 440 440C434.2 420 433.3 386.7 415 380C396.7 373.3 355.2 395.7 330 400C304.8 404.3 278.3 403 264 406Z" fill="#fff"/>
<path d="M264 406C260.7 408 251.3 414 244 418C236.7 422 227.3 426 220 430C212.7 434 206 437.3 200 442C194 446.7 188.2 452 184 458C179.8 464 176.7 471.7 175 478C173.3 484.3 173.2 490 174 496C174.8 502 176.7 507.7 180 514C183.3 520.3 188 527.3 194 534C200 540.7 208.3 548.3 216 554C223.7 559.7 232 564.5 240 568C248 571.5 255.7 573.8 264 575C272.3 576.2 281.7 576 290 575C298.3 574 306.7 571.8 314 569C321.3 566.2 327.3 561.7 334 558C340.7 554.3 348 549.8 354 547C360 544.2 364 542.6 370 541.5C376 540.4 384.3 540.5 390 540.5C395.7 540.5 400.1 541.4 404 541.3C407.9 541.2 410 540.5 413.3 540C416.6 539.5 420.9 538.3 424 538C427.1 537.7 429.3 537.8 432 538C434.7 538.2 437.3 538.5 440 539.3C442.7 540.1 446 541.2 448 542.7C450 544.2 451.3 547.1 452 548" fill="none" stroke="#58636d" stroke-width="2.5" stroke-linecap="round"/>
<path d="M416.5 540C416.9 538.9 417.7 536 418.7 533.3C419.7 530.6 420.5 527.3 422.7 524C424.9 520.7 428.7 516.4 432 513.3C435.3 510.2 439.1 507.2 442.7 505.3C446.2 503.4 449.8 502.4 453.3 502C456.9 501.6 460.7 501.9 464 502.7C467.3 503.5 470.9 504.7 473.3 506.7C475.8 508.7 477.7 511.8 478.7 514.7C479.7 517.6 479.1 520.7 479.3 524C479.5 527.3 479.9 532.9 480 534.7" fill="none" stroke="#58636d" stroke-width="2.5" stroke-linecap="round"/>
<path d="M322 263C322 262.4 333.7 256.4 340 254.5C346.3 252.6 353.3 251.5 360 251.5C366.7 251.5 374 252.5 380 254.5C386 256.5 391.2 259.4 396 263.5C400.8 267.6 405.3 273.4 408.5 279C411.7 284.6 413.4 291 415 297C416.6 303 417.5 309 418 315C418.5 321 419.5 334.7 418 333C416.5 331.3 412.3 313.5 409 305C405.7 296.5 402.8 288.5 398 282C393.2 275.5 386.3 270 380 266C373.7 262 366.7 259.3 360 258C353.3 256.7 346.3 257.2 340 258C333.7 258.8 322 263.6 322 263Z" fill="#bcc3cd"/>
<path d="M326 442C325 443.3 334.3 451.4 340 454C345.7 456.6 353.3 457.8 360 457.5C366.7 457.2 374 455.2 380 452C386 448.8 391.8 443.3 396 438C400.2 432.7 403 425.7 405 420C407 414.3 409.7 403.2 408 404C406.3 404.8 401.3 418.8 395 425C388.7 431.2 378.2 437.5 370 441C361.8 444.5 353.3 445.8 346 446C338.7 446.2 327 440.7 326 442Z" fill="#bcc3cd"/>
<path d="M265 316C266.3 312.2 267.8 311.2 270 309C272.2 306.8 273.2 304.7 278 302.5C282.8 300.3 291.9 297.2 299 296C306.1 294.8 315.2 294.7 320.5 295.5C325.8 296.3 327.4 298.5 331 301C334.6 303.5 338 306.9 342 310.5C346 314.1 350.2 319.2 355 322.5C359.8 325.8 365.2 328.5 371 330C376.8 331.5 385 330.9 390 331.5C395 332.1 397.8 332.4 401 333.5C404.2 334.6 406.4 338 409 338C411.6 338 415.5 329.8 416.8 333.5C418.1 337.2 417.5 352.2 417 360C416.5 367.8 415.8 376.5 414 380C412.2 383.5 409 379.7 406 381C403 382.3 399.3 386.2 396 388C392.7 389.8 390.3 391.7 386 392C381.7 392.3 374.7 389.7 370 390C365.3 390.3 362 391.7 358 394C354 396.3 350.7 399.7 346 404C341.3 408.3 335.7 415.5 330 420C324.3 424.5 318 429.7 312 431C306 432.3 299.3 429.5 294 428C288.7 426.5 284 424.3 280 422C276 419.7 272.7 416.8 270 414C267.3 411.2 265.3 409 264 405C262.7 401 262.3 402.2 262 390C261.7 377.8 261.5 344.3 262 332C262.5 319.7 263.7 319.8 265 316Z" fill="#fff"/>
<path d="M265 316C265.8 314.8 267.8 311.2 270 309C272.2 306.8 273.2 304.7 278 302.5C282.8 300.3 291.9 297.2 299 296C306.1 294.8 316.9 295.6 320.5 295.5" fill="none" stroke="#58636d" stroke-width="2.5" stroke-linecap="round"/>
<path d="M312 431C309 430.5 299.3 429.5 294 428C288.7 426.5 284 424.3 280 422C276 419.7 272.7 416.8 270 414C267.3 411.2 265 406.5 264 405" fill="none" stroke="#58636d" stroke-width="2.5" stroke-linecap="round"/>
<path d="M310 292C308.7 288.9 310.3 281.7 312.5 277C314.7 272.3 318.1 267.4 323 264C327.9 260.6 335.3 257.6 342 256.5C348.7 255.4 355.9 255.8 363 257.5C370.1 259.2 378.2 262.8 384.5 267C390.8 271.2 396.1 276.8 400.5 283C404.9 289.2 408.4 297 411 304C413.6 311 415 320.1 416 325C417 329.9 418 331.3 416.8 333.5C415.6 335.7 411.6 338 409 338C406.4 338 404.2 334.6 401 333.5C397.8 332.4 395 332.1 390 331.5C385 330.9 376.8 331.5 371 330C365.2 328.5 359.8 325.8 355 322.5C350.2 319.2 346 314.1 342 310.5C338 306.9 334.6 303.5 331 301C327.4 298.5 324 297 320.5 295.5C317 294 311.3 295.1 310 292Z" fill="#dcedee" stroke="#58636d" stroke-width="2.5" stroke-linejoin="round"/>
<path d="M312.5 277C314.2 274.8 318.1 267.4 323 264C327.9 260.6 335.3 257.6 342 256.5C348.7 255.4 355.9 255.8 363 257.5C370.1 259.2 378.2 262.8 384.5 267C390.8 271.2 396.1 276.8 400.5 283C404.9 289.2 408.4 297 411 304C413.6 311 415 320.1 416 325C417 329.9 416.7 332.1 416.8 333.5" fill="none" stroke="#111" stroke-width="2.2"/>
<path d="M312 431C312.7 427.3 324.3 424.5 330 420C335.7 415.5 341.3 408.3 346 404C350.7 399.7 354 396.3 358 394C362 391.7 365.3 390.3 370 390C374.7 389.7 381.7 392.3 386 392C390.3 391.7 392.7 389.8 396 388C399.3 386.2 403 382.3 406 381C409 379.7 413 378.3 414 380C415 381.7 413.3 386 412 391C410.7 396 409.7 403.5 406 410C402.3 416.5 396 424.7 390 430C384 435.3 377.3 439.2 370 442C362.7 444.8 353.3 447 346 447C338.7 447 331.7 444.7 326 442C320.3 439.3 311.3 434.7 312 431Z" fill="#dcedee" stroke="#58636d" stroke-width="2.5" stroke-linejoin="round"/>
<path d="M412 391C411 394.2 409.7 403.5 406 410C402.3 416.5 396 424.7 390 430C384 435.3 377.3 439.2 370 442C362.7 444.8 353.3 447 346 447C338.7 447 331.7 444.7 326 442C320.3 439.3 314.3 432.8 312 431" fill="none" stroke="#111" stroke-width="2.2"/>
<path d="M250 337.5C250.3 336.9 250.5 333.8 251.7 333.8C252.9 333.8 255.3 336.1 257.2 337.4C259.1 338.7 261.2 341.6 263.2 341.6C265.2 341.6 267.5 338.6 269.2 337.4C271 336.2 273 335 273.7 334.5C282.7 344 282.7 376 273.7 385C273 384.5 271 383.3 269.2 382.2C267.5 381.1 265.2 378.4 263.2 378.4C261.2 378.4 259.1 381 257.2 382.2C255.3 383.4 252.9 385.5 251.7 385.4C250.5 385.3 250.3 382.4 250 381.8C249.4 369 249.4 350 250 337.5Z" fill="#fff" stroke="#58636d" stroke-width="2.4" stroke-linejoin="round"/></g>
<path d="M439 156C438.5 154.3 436.2 149.5 436 146C435.8 142.5 436 138.2 438 135C440 131.8 443.3 129.1 448 127C452.7 124.9 459 123 466 122.4C473 121.8 481 122.5 490 123.6C499 124.7 506.7 125.9 520 129C533.3 132.1 556.7 138.1 570 142C583.3 145.9 589.5 148.9 600 152.7C610.5 156.5 622.2 160.9 633.3 165C644.4 169.1 655.6 173.9 666.7 177.5C677.8 181.1 688.9 183.8 700 186.5C711.1 189.2 722.2 191.4 733.3 193.5C744.4 195.6 755.6 197.3 766.7 199.3C777.8 201.3 786.1 202.5 800 205.3C813.9 208.1 835 213.2 850 216C865 218.8 878.3 221 890 222C901.7 223 910 223.7 920 222C930 220.3 941 214.7 950 212C959 209.3 967.3 206.8 974 206C980.7 205.2 985.3 205.3 990 207C994.7 208.7 999.2 212.2 1002 216C1004.8 219.8 1006.8 225 1007 230C1007.2 235 1002.8 239.3 1003 246C1003.2 252.7 1008.5 263.5 1008 270C1007.5 276.5 1001.3 282.5 1000 285C980 281.7 905 270.2 880 265C855 259.8 873.3 260.3 850 254C826.7 247.7 776.7 236 740 227C703.3 218 651.7 205.3 630 200C608.3 194.7 620 196.8 610 195C600 193.2 583.3 189.9 570 189C556.7 188.1 541.7 189.8 530 189.6C518.3 189.4 508 189.6 500 188C492 186.4 486.7 182 482 180C477.3 178 473.7 176.7 472 176C471.2 177.3 467.7 180 467 184C466.3 188 469.5 195 468 200C466.5 205 462.3 211.1 458 214C453.7 216.9 447.7 218.2 442 217.5C436.3 216.8 429.3 213.9 424 210C418.7 206.1 413.3 199 410 194C406.7 189 405 182.3 404 180C405.2 179.6 408.5 177.7 411 177.8C413.5 177.9 416.2 180.5 419 180.5C421.8 180.5 424.8 180.1 428 178C431.2 175.9 436.2 171.7 438 168C439.8 164.3 438.8 158 439 156Z" fill="#fff" stroke="#58636d" stroke-width="2.5" stroke-linejoin="round"/>
<path d="M438 168C439 169.7 441.3 175.5 444 178C446.7 180.5 450.2 182 454 183C457.8 184 464.8 183.8 467 184" fill="none" stroke="#58636d" stroke-width="2.5" stroke-linecap="round"/>
<path d="M1007 226C1009.2 221.2 1012.2 220.6 1016 219C1019.8 217.4 1025.3 216.3 1030 216.5C1034.7 216.7 1040 217.8 1044 220C1048 222.2 1052.2 226.3 1054 230C1055.8 233.7 1054 238.3 1055 242C1056 245.7 1059.2 248 1060 252C1060.8 256 1060.7 262 1060 266C1059.3 270 1061 272.8 1056 276C1051 279.2 1038 285.7 1030 285C1022 284.3 1012.5 278.2 1008 272C1003.5 265.8 1003.2 255.7 1003 248C1002.8 240.3 1004.8 230.8 1007 226Z" fill="#fff" stroke="#58636d" stroke-width="2.5" stroke-linejoin="round"/>
<path d="M1054 232C1055.3 229.3 1056 227.7 1062 226C1068 224.3 1075.3 223 1090 222C1104.7 221 1126.2 220.9 1150 220C1173.8 219.1 1201.3 215.5 1233 216.7C1264.7 217.9 1304.3 221.7 1340 227C1375.7 232.3 1420 243.8 1447 248.7C1474 253.6 1492.8 252.3 1502 256.7C1511.2 261.1 1511.2 273.3 1502 275C1492.8 276.7 1474 271.2 1447 267C1420 262.8 1375.7 254.7 1340 250C1304.3 245.3 1264.2 241.2 1233 239C1201.8 236.8 1173.8 236 1153 236.7C1132.2 237.4 1116.8 241.2 1108 243C1099.2 244.8 1106.3 247 1100 247.5C1093.7 248 1076.7 245.8 1070 246C1063.3 246.2 1062.7 249.7 1060 249C1057.3 248.3 1055 244.8 1054 242C1053 239.2 1052.7 234.7 1054 232Z" fill="#fff" stroke="#58636d" stroke-width="2.5" stroke-linejoin="round"/>
<path d="M1060 249C1061.7 246 1063.3 246.2 1070 246C1076.7 245.8 1093.3 246.8 1100 247.5C1106.7 248.2 1096.7 247.6 1110 250C1123.3 252.4 1150.5 257.8 1180 262C1209.5 266.2 1251.5 271.2 1287 275C1322.5 278.8 1362 282.7 1393 285C1424 287.3 1454.8 289.2 1473 289C1491.2 288.8 1497.2 279.7 1502 284C1506.8 288.3 1524.5 312 1502 315C1479.5 318 1411.8 306 1367 302C1322.2 298 1270.8 293.2 1233 291C1195.2 288.8 1160.8 288.5 1140 289C1119.2 289.5 1116.3 292.8 1108 294C1099.7 295.2 1098.3 298.7 1090 296C1081.7 293.3 1063 283.3 1058 278C1053 272.7 1059.7 268.8 1060 264C1060.3 259.2 1058.3 252 1060 249Z" fill="#fff" stroke="#58636d" stroke-width="2.5" stroke-linejoin="round"/>
<path d="M481 533C481.3 534 481.8 537.6 483 539C484.2 540.4 485.8 542 488 541.6C490.2 541.2 492 538.7 496 536.8C500 534.9 505.3 532.1 512 530.4C518.7 528.7 526.7 527.5 536 526.4C545.3 525.3 557.3 525.1 568 524C578.7 522.9 588 521.8 600 520C612 518.2 624.5 516.3 640 513C655.5 509.7 666.3 507 693 500C719.7 493 767.5 480.9 800 471C832.5 461.1 861.3 448.4 888 440.7C914.7 433 938.5 427.1 960 425C981.5 422.9 1007.5 427.5 1017 428C1017.1 429.3 1018.3 432.5 1017.6 436C1016.9 439.5 1013.1 444.3 1012.8 448.8C1012.5 453.3 1015.2 458.2 1016 463C1016.8 467.8 1018.1 473.3 1017.6 477.6C1017.1 481.9 1015.7 486 1012.8 488.8C1009.9 491.6 1004.8 493.3 1000 494.4C995.2 495.5 989.9 496.2 984 495.5C978.1 494.8 971.5 492.8 964.8 490.4C958.1 487.9 951.5 482.8 944 480.8C936.5 478.8 927.3 478.6 920 478.5C912.7 478.4 911.7 478.2 900 480C888.3 481.8 866.7 485.6 850 489C833.3 492.4 816.7 496.1 800 500.5C783.3 504.9 766.7 510.3 750 515.5C733.3 520.7 716.7 526.2 700 531.5C683.3 536.8 666.7 542.1 650 547.5C633.3 552.9 616.3 558.6 600 564C583.7 569.4 565.3 575.7 552 580C538.7 584.3 529.3 587.3 520 589.6C510.7 591.9 504 593.2 496 593.6C488 594 478.4 593.2 472 592C465.6 590.8 460.9 588.7 457.6 586.4C454.3 584.1 453.1 581.6 452 578.4C450.9 575.2 450.6 570.5 451 567C451.4 563.5 454.2 560.8 454.4 557.6C454.6 554.4 452.6 550.5 452 548C451.4 545.5 450.8 543.4 450.5 542.5C451.4 541.8 453.8 539.4 456 538C458.2 536.6 460.3 535.4 464 534.4C467.7 533.4 475.6 532.2 478.4 532C481.2 531.8 480.6 532.8 481 533Z" fill="#fff" stroke="#58636d" stroke-width="2.5" stroke-linejoin="round"/>
<path d="M1017 463C1018.5 467.5 1018.7 473.1 1022 476C1025.3 478.9 1031.1 480.5 1036.8 480.5C1042.5 480.5 1051.2 477.8 1056 476C1060.8 474.2 1063.9 474 1065.6 470C1067.3 466 1064.9 457 1066 452C1067.1 447 1071.7 445.3 1072 440C1072.3 434.7 1073.3 423.7 1068 420C1062.7 416.3 1048.4 416.3 1040 418C1031.6 419.7 1022.1 424.8 1017.6 430C1013.1 435.2 1013.1 443.5 1013 449C1012.9 454.5 1015.5 458.5 1017 463Z" fill="#fff" stroke="#58636d" stroke-width="2.5" stroke-linejoin="round"/>
<path d="M1067 417C1063.5 419.5 1067.7 421.2 1068.8 423C1069.9 424.8 1073.3 425.8 1073.6 428C1073.9 430.2 1070.7 432.8 1070.4 436C1070.1 439.2 1072.6 444.2 1072 447C1071.4 449.8 1065.7 451.6 1067 452.8C1068.3 454 1073.8 454.3 1080 454.4C1086.2 454.5 1098.8 454.2 1104 453.6C1109.2 453 1093.8 453.4 1111 451C1128.2 448.6 1173.3 442.5 1207 439C1240.7 435.5 1277.5 432.2 1313 430C1348.5 427.8 1388.5 426.7 1420 426C1451.5 425.3 1488.3 430.5 1502 426C1515.7 421.5 1520.2 402.6 1502 399C1483.8 395.4 1428.8 402.9 1393 404.7C1357.2 406.5 1322.5 408.7 1287 410C1251.5 411.3 1206.5 412.6 1180 412.7C1153.5 412.8 1138.7 412 1128 410.4C1117.3 408.8 1122.3 403.4 1116 403C1109.7 402.6 1098.2 405.7 1090 408C1081.8 410.3 1070.5 414.5 1067 417Z" fill="#fff" stroke="#58636d" stroke-width="2.5" stroke-linejoin="round"/>
<path d="M1067 452.8C1069.7 452.1 1073.8 454.3 1080 454.4C1086.2 454.5 1098.8 453.9 1104 453.6C1109.2 453.3 1105 451.3 1111 452.7C1117 454.1 1119.7 459.6 1140 462C1160.3 464.4 1199.7 467 1233 467C1266.3 467 1304.3 464.7 1340 462C1375.7 459.3 1420 453.7 1447 451C1474 448.3 1492.8 443.1 1502 446C1511.2 448.9 1511.2 464.2 1502 468.7C1492.8 473.1 1474 470.3 1447 472.7C1420 475.1 1375.7 480.6 1340 483C1304.3 485.4 1263 487.1 1233 487C1203 486.9 1177.5 483.8 1160 482.4C1142.5 481 1138.7 479.3 1128 478.4C1117.3 477.5 1105.3 477.2 1096 476.8C1086.7 476.4 1077.2 477.2 1072 476C1066.8 474.8 1066.1 472.5 1064.8 469.6C1063.5 466.7 1063.6 461.2 1064 458.4C1064.4 455.6 1064.3 453.5 1067 452.8Z" fill="#fff" stroke="#58636d" stroke-width="2.5" stroke-linejoin="round"/>
<path d="M1175 269L1330 285M1200 284L1500 302M1330 294L1500 312" fill="none" stroke="#d9dfea" stroke-width="2.6" stroke-linecap="round"/>
<path d="M1210 420L1500 407M1185 434L1400 421" fill="none" stroke="#d9dfea" stroke-width="2.6" stroke-linecap="round"/>
<g filter="url(#bl6)" opacity="0.9" fill="none" stroke="#f3f8e2" stroke-width="13" style="mix-blend-mode:multiply"><circle cx="433.5" cy="188.7" r="38.3"/><circle cx="433.5" cy="188.7" r="68.5"/><circle cx="433.5" cy="188.7" r="0" fill="#f3f8e2" stroke="none"/><circle cx="451.5" cy="522" r="38.3"/><circle cx="451.5" cy="522" r="68.5"/><circle cx="451.5" cy="522" r="0" fill="#f3f8e2" stroke="none"/><circle cx="1028.5" cy="254" r="38.3"/><circle cx="1028.5" cy="254" r="68.5"/><circle cx="1028.5" cy="254" r="0" fill="#f3f8e2" stroke="none"/><circle cx="1036.8" cy="456.6" r="38.3"/><circle cx="1036.8" cy="456.6" r="68.5"/><circle cx="1036.8" cy="456.6" r="0" fill="#f3f8e2" stroke="none"/></g>
<g filter="url(#bl6)" opacity="0.85" fill="none" stroke="#d9eab4" stroke-width="0" style="mix-blend-mode:multiply"><circle cx="433.5" cy="188.7" r="38.3"/><circle cx="433.5" cy="188.7" r="68.5"/><circle cx="433.5" cy="188.7" r="23" fill="#d9eab4" stroke="none"/><circle cx="451.5" cy="522" r="38.3"/><circle cx="451.5" cy="522" r="68.5"/><circle cx="451.5" cy="522" r="23" fill="#d9eab4" stroke="none"/><circle cx="1028.5" cy="254" r="38.3"/><circle cx="1028.5" cy="254" r="68.5"/><circle cx="1028.5" cy="254" r="23" fill="#d9eab4" stroke="none"/><circle cx="1036.8" cy="456.6" r="38.3"/><circle cx="1036.8" cy="456.6" r="68.5"/><circle cx="1036.8" cy="456.6" r="23" fill="#d9eab4" stroke="none"/></g>
<circle cx="433.5" cy="188.7" r="17.4" fill="#6ab42d"/>
<circle cx="433.5" cy="188.7" r="38.3" fill="none" stroke="#6ab42d" stroke-width="5.1" stroke-dasharray="9.9 14.165" stroke-linecap="round"/>
<circle cx="433.5" cy="188.7" r="68.5" fill="none" stroke="#6ab42d" stroke-width="5.1" stroke-dasharray="9.9 14.011" stroke-linecap="round"/>
<circle cx="451.5" cy="522" r="17.4" fill="#6ab42d"/>
<circle cx="451.5" cy="522" r="38.3" fill="none" stroke="#6ab42d" stroke-width="5.1" stroke-dasharray="9.9 14.165" stroke-linecap="round"/>
<circle cx="451.5" cy="522" r="68.5" fill="none" stroke="#6ab42d" stroke-width="5.1" stroke-dasharray="9.9 14.011" stroke-linecap="round"/>
<circle cx="1028.5" cy="254" r="17.4" fill="#6ab42d"/>
<circle cx="1028.5" cy="254" r="38.3" fill="none" stroke="#6ab42d" stroke-width="5.1" stroke-dasharray="9.9 14.165" stroke-linecap="round"/>
<circle cx="1028.5" cy="254" r="68.5" fill="none" stroke="#6ab42d" stroke-width="5.1" stroke-dasharray="9.9 14.011" stroke-linecap="round"/>
<circle cx="1036.8" cy="456.6" r="17.4" fill="#6ab42d"/>
<circle cx="1036.8" cy="456.6" r="38.3" fill="none" stroke="#6ab42d" stroke-width="5.1" stroke-dasharray="9.9 14.165" stroke-linecap="round"/>
<circle cx="1036.8" cy="456.6" r="68.5" fill="none" stroke="#6ab42d" stroke-width="5.1" stroke-dasharray="9.9 14.011" stroke-linecap="round"/>
<path d="M898 263.5C912.4 263.9 942.5 266.2 966.6 269C990.7 271.8 1017.2 275.8 1042.5 280.5C1067.8 285.2 1099.5 292.4 1118.5 297C1137.5 301.6 1146.8 304.4 1156.5 308C1166.2 311.6 1171.5 314.7 1176.7 318.5C1182 322.3 1185.5 326.4 1188 331C1190.5 335.6 1191.6 340.5 1192 346C1192.4 351.5 1192.3 358.5 1190.6 364C1188.9 369.5 1186.2 374.3 1181.8 379C1177.4 383.7 1172.5 387.8 1164 392C1155.5 396.2 1147 400.3 1131 404.5C1115 408.7 1091 413 1067.8 417C1044.6 421 1015.2 425.4 992 428.6C968.8 431.8 944.2 434.5 928.6 436C913 437.5 906.6 438.5 898.2 437.5C889.8 436.5 883.3 433.8 878 430C872.7 426.2 868.7 420.2 866.6 414.7C864.5 409.2 864.9 405 865.3 397C865.7 389 868.1 375.9 869 366.6C869.9 357.3 870.8 349.4 870.4 341C870 332.6 867.5 323.6 866.6 316C865.8 308.4 864.9 302 865.3 295.7C865.7 289.4 866.5 282.9 869 278C871.5 273.1 875.7 269 880.5 266.6C885.3 264.2 883.6 263.1 898 263.5Z" fill="#c2171b" stroke="#2a0a0a" stroke-width="1.4"/>
</g>
<rect x="0" y="778.9" width="1500" height="2.2" fill="#dcdcdc"/>
<g>
<path d="M0 1279C28.7 1277.5 118.7 1270.3 172 1270C225.3 1269.7 268.3 1275.2 320 1277C371.7 1278.8 422 1280.3 482 1281C542 1281.7 633.7 1281.6 680 1281C726.3 1280.4 740 1278.1 760 1277.5C780 1276.9 780 1278.8 800 1277.5C820 1276.2 856 1271.9 880 1269.5C904 1267.1 928 1264.8 944 1263C960 1261.2 963.3 1260.3 976 1258.5C988.7 1256.7 999.3 1253.2 1020 1252C1040.7 1250.8 1068.8 1250.7 1100 1251C1131.2 1251.3 1171.5 1253.8 1207 1254C1242.5 1254.2 1277.5 1253.3 1313 1252C1348.5 1250.7 1388.8 1247.7 1420 1246C1451.2 1244.3 1486.7 1242.7 1500 1242L1500 1500L0 1500Z" fill="url(#gBot)"/>
<path d="M0 944.7C6.7 946.1 26.7 950.5 40 953C53.3 955.5 65 960 80 960C95 960 112.5 956.4 130 953C147.5 949.6 175.8 941.8 185 939.5C192.5 936.4 214.2 927.8 230 921C245.8 914.2 263.3 906 280 899C296.7 892 312.8 885 330 879C347.2 873 368 866.4 383 863C398 859.6 409.7 859.3 420 858.5C430.3 857.7 433.3 857.6 445 858C456.7 858.4 469.2 857.8 490 860.7C510.8 863.6 543.3 869.3 570 875.5C596.7 881.7 623.3 890.5 650 898C676.7 905.5 695 911.2 730 920.5C765 929.8 820.5 943.9 860 954C899.5 964.1 935.6 973.2 966.7 981C997.8 988.8 1024.5 996.3 1046.7 1001C1068.9 1005.7 1073.3 1005.8 1100 1009C1126.7 1012.2 1171.5 1014.2 1207 1020C1242.5 1025.8 1277.5 1033 1313 1043.5C1348.5 1054 1389.1 1071.2 1420 1083C1450.9 1094.8 1485.2 1109.2 1498.3 1114.5L1498.3 1240C1484.2 1240.7 1450.7 1242.5 1420 1244C1389.3 1245.5 1348.5 1247.7 1313 1249C1277.5 1250.3 1242.5 1252 1207 1252C1171.5 1252 1127.8 1249.7 1100 1249C1072.2 1248.3 1053.3 1247.9 1040 1248C1026.7 1248.1 1030.7 1248.3 1020 1249.6C1009.3 1250.9 988.7 1254.1 976 1256C963.3 1257.9 960 1258.9 944 1260.8C928 1262.7 904 1264.8 880 1267.2C856 1269.6 820 1273.9 800 1275.2C780 1276.5 780 1274.4 760 1275C740 1275.6 726.3 1278.4 680 1279C633.7 1279.6 542 1279.4 482 1278.7C422 1278 371.7 1276.9 320 1275C268.3 1273.1 225.3 1267.2 172 1267.5C118.7 1267.8 28.7 1275.4 0 1277Z" fill="#dcedee"/>
<path d="M0 1279L0 944.7C6.7 946.1 26.7 950.5 40 953C53.3 955.5 65 960 80 960C95 960 112.5 956.4 130 953C147.5 949.6 175.8 941.8 185 939.5C192.5 936.4 214.2 927.8 230 921C245.8 914.2 263.3 906 280 899C296.7 892 312.8 885 330 879C347.2 873 368 866.4 383 863C398 859.6 409.7 859.3 420 858.5C430.3 857.7 433.3 857.6 445 858C456.7 858.4 469.2 857.8 490 860.7C510.8 863.6 543.3 869.3 570 875.5C596.7 881.7 623.3 890.5 650 898C676.7 905.5 695 911.2 730 920.5C765 929.8 820.5 943.9 860 954C899.5 964.1 935.6 973.2 966.7 981C997.8 988.8 1024.5 996.3 1046.7 1001C1068.9 1005.7 1073.3 1005.8 1100 1009C1126.7 1012.2 1171.5 1014.2 1207 1020C1242.5 1025.8 1277.5 1033 1313 1043.5C1348.5 1054 1389.1 1071.2 1420 1083C1450.9 1094.8 1485.2 1109.2 1498.3 1114.5L1498.3 1133" fill="none" stroke="#000" stroke-width="5.3" stroke-linejoin="miter"/>
<path d="M0 1277C28.7 1275.4 143.3 1269.1 172 1267.5" fill="none" stroke="#000" stroke-width="5.3"/>
<path d="M470 1278.7C472 1278.7 468.7 1278.6 482 1278.7C495.3 1278.8 523.7 1279.5 550 1279.5C576.3 1279.5 625 1279.1 640 1279" fill="none" stroke="#000" stroke-width="5.3"/>
<path d="M740 1276C743.3 1275.8 750 1275.1 760 1275C770 1274.9 780 1276.5 800 1275.2C820 1273.9 856 1269.6 880 1267.2C904 1264.8 928 1262.7 944 1260.8C960 1258.9 963.3 1257.9 976 1256C988.7 1254.1 1009.3 1250.9 1020 1249.6C1030.7 1248.3 1026.7 1248.1 1040 1248C1053.3 1247.9 1072.2 1248.3 1100 1249C1127.8 1249.7 1171.5 1252 1207 1252C1242.5 1252 1277.5 1250.3 1313 1249C1348.5 1247.7 1389.3 1245.5 1420 1244C1450.7 1242.5 1484.2 1240.7 1497 1240" fill="none" stroke="#000" stroke-width="5.3"/>
<path d="M1497 1228L1497 1242" fill="none" stroke="#000" stroke-width="5.3"/>
<path d="M625.3 1102.1C629.8 1101.8 642.9 1100.6 652 1100.3C661.1 1100 666.5 1099.4 680 1100C693.5 1100.6 715.5 1102.2 733.3 1104C751.1 1105.8 768.9 1108 786.7 1110.7C804.5 1113.4 822.2 1116.7 840 1120C857.8 1123.3 875.5 1127.2 893.3 1130.7C911.1 1134.2 934.2 1138.8 946.7 1141.3C959.2 1143.8 964.5 1145.1 968 1145.9" fill="none" stroke="#000" stroke-width="5.3" stroke-linecap="round" stroke-linejoin="round"/>
<g transform="translate(0 762)"><path d="M10.1 333.2C9.9 332.3 9.6 330.2 8.8 327.7C8 325.2 6.4 321.5 5.4 318.3C4.4 315.1 3.5 311.6 2.8 308.3C2.1 305 1.4 301.1 1.1 298.3C0.8 295.5 0.7 293.2 0.8 291.5C0.9 289.8 1.3 289 1.8 288.3C2.3 287.6 2.8 287.2 3.6 287.2C4.3 287.1 4.9 286.8 6.3 288C7.7 289.2 10.2 291.6 12.1 294.3C13.9 297 15.7 300.6 17.4 304.3C19.1 308 20.9 312.5 22.1 316.3C23.3 320.1 24.1 323.6 24.8 327C25.5 330.4 26.1 334.9 26.4 336.5L26.4 346L10.1 346Z" fill="#fff"/>
<path d="M10.1 333.2C9.9 332.3 9.6 330.2 8.8 327.7C8 325.2 6.4 321.5 5.4 318.3C4.4 315.1 3.5 311.6 2.8 308.3C2.1 305 1.4 301.1 1.1 298.3C0.8 295.5 0.7 293.2 0.8 291.5C0.9 289.8 1.3 289 1.8 288.3C2.3 287.6 2.8 287.2 3.6 287.2C4.3 287.1 4.9 286.8 6.3 288C7.7 289.2 10.2 291.6 12.1 294.3C13.9 297 15.7 300.6 17.4 304.3C19.1 308 20.9 312.5 22.1 316.3C23.3 320.1 24.1 323.6 24.8 327C25.5 330.4 26.1 334.9 26.4 336.5" fill="none" stroke="#58636d" stroke-width="2.4" stroke-linecap="round"/>
<path d="M10.1 387.3C9.9 388.2 9.6 390.3 8.8 392.8C8 395.3 6.4 399 5.4 402.2C4.4 405.4 3.5 408.9 2.8 412.2C2.1 415.5 1.4 419.4 1.1 422.2C0.8 425 0.7 427.3 0.8 429C0.9 430.7 1.3 431.5 1.8 432.2C2.3 432.9 2.8 433.2 3.6 433.3C4.3 433.4 4.9 433.7 6.3 432.5C7.7 431.3 10.2 428.9 12.1 426.2C13.9 423.5 15.7 419.9 17.4 416.2C19.1 412.5 20.9 408 22.1 404.2C23.3 400.4 24.1 396.9 24.8 393.5C25.5 390.1 26.1 385.6 26.4 384L26.4 374L10.1 374Z" fill="#fff"/>
<path d="M10.1 387.3C9.9 388.2 9.6 390.3 8.8 392.8C8 395.3 6.4 399 5.4 402.2C4.4 405.4 3.5 408.9 2.8 412.2C2.1 415.5 1.4 419.4 1.1 422.2C0.8 425 0.7 427.3 0.8 429C0.9 430.7 1.3 431.5 1.8 432.2C2.3 432.9 2.8 433.2 3.6 433.3C4.3 433.4 4.9 433.7 6.3 432.5C7.7 431.3 10.2 428.9 12.1 426.2C13.9 423.5 15.7 419.9 17.4 416.2C19.1 412.5 20.9 408 22.1 404.2C23.3 400.4 24.1 396.9 24.8 393.5C25.5 390.1 26.1 385.6 26.4 384" fill="none" stroke="#58636d" stroke-width="2.4" stroke-linecap="round"/>
<path d="M44.8 333.2C44.6 332.3 44.3 330.2 43.5 327.7C42.7 325.2 41.1 321.5 40.1 318.3C39.1 315.1 38.2 311.6 37.5 308.3C36.8 305 36.1 301.1 35.8 298.3C35.5 295.5 35.4 293.2 35.5 291.5C35.6 289.8 36 289 36.5 288.3C37 287.6 37.5 287.2 38.3 287.2C39 287.1 39.6 286.8 41 288C42.4 289.2 44.9 291.6 46.8 294.3C48.6 297 50.4 300.6 52.1 304.3C53.8 308 55.6 312.5 56.8 316.3C58 320.1 58.8 323.6 59.5 327C60.2 330.4 60.8 334.9 61.1 336.5L61.1 346L44.8 346Z" fill="#fff"/>
<path d="M44.8 333.2C44.6 332.3 44.3 330.2 43.5 327.7C42.7 325.2 41.1 321.5 40.1 318.3C39.1 315.1 38.2 311.6 37.5 308.3C36.8 305 36.1 301.1 35.8 298.3C35.5 295.5 35.4 293.2 35.5 291.5C35.6 289.8 36 289 36.5 288.3C37 287.6 37.5 287.2 38.3 287.2C39 287.1 39.6 286.8 41 288C42.4 289.2 44.9 291.6 46.8 294.3C48.6 297 50.4 300.6 52.1 304.3C53.8 308 55.6 312.5 56.8 316.3C58 320.1 58.8 323.6 59.5 327C60.2 330.4 60.8 334.9 61.1 336.5" fill="none" stroke="#58636d" stroke-width="2.4" stroke-linecap="round"/>
<path d="M44.8 387.3C44.6 388.2 44.3 390.3 43.5 392.8C42.7 395.3 41.1 399 40.1 402.2C39.1 405.4 38.2 408.9 37.5 412.2C36.8 415.5 36.1 419.4 35.8 422.2C35.5 425 35.4 427.3 35.5 429C35.6 430.7 36 431.5 36.5 432.2C37 432.9 37.5 433.2 38.3 433.3C39 433.4 39.6 433.7 41 432.5C42.4 431.3 44.9 428.9 46.8 426.2C48.6 423.5 50.4 419.9 52.1 416.2C53.8 412.5 55.6 408 56.8 404.2C58 400.4 58.8 396.9 59.5 393.5C60.2 390.1 60.8 385.6 61.1 384L61.1 374L44.8 374Z" fill="#fff"/>
<path d="M44.8 387.3C44.6 388.2 44.3 390.3 43.5 392.8C42.7 395.3 41.1 399 40.1 402.2C39.1 405.4 38.2 408.9 37.5 412.2C36.8 415.5 36.1 419.4 35.8 422.2C35.5 425 35.4 427.3 35.5 429C35.6 430.7 36 431.5 36.5 432.2C37 432.9 37.5 433.2 38.3 433.3C39 433.4 39.6 433.7 41 432.5C42.4 431.3 44.9 428.9 46.8 426.2C48.6 423.5 50.4 419.9 52.1 416.2C53.8 412.5 55.6 408 56.8 404.2C58 400.4 58.8 396.9 59.5 393.5C60.2 390.1 60.8 385.6 61.1 384" fill="none" stroke="#58636d" stroke-width="2.4" stroke-linecap="round"/>
<path d="M79.5 333.2C79.3 332.3 79 330.2 78.2 327.7C77.4 325.2 75.8 321.5 74.8 318.3C73.8 315.1 72.9 311.6 72.2 308.3C71.5 305 70.8 301.1 70.5 298.3C70.2 295.5 70.1 293.2 70.2 291.5C70.3 289.8 70.7 289 71.2 288.3C71.7 287.6 72.2 287.2 73 287.2C73.8 287.1 74.3 286.8 75.7 288C77.1 289.2 79.7 291.6 81.5 294.3C83.3 297 85.1 300.6 86.8 304.3C88.5 308 90.3 312.5 91.5 316.3C92.7 320.1 93.5 323.6 94.2 327C94.9 330.4 95.5 334.9 95.8 336.5L95.8 346L79.5 346Z" fill="#fff"/>
<path d="M79.5 333.2C79.3 332.3 79 330.2 78.2 327.7C77.4 325.2 75.8 321.5 74.8 318.3C73.8 315.1 72.9 311.6 72.2 308.3C71.5 305 70.8 301.1 70.5 298.3C70.2 295.5 70.1 293.2 70.2 291.5C70.3 289.8 70.7 289 71.2 288.3C71.7 287.6 72.2 287.2 73 287.2C73.8 287.1 74.3 286.8 75.7 288C77.1 289.2 79.7 291.6 81.5 294.3C83.3 297 85.1 300.6 86.8 304.3C88.5 308 90.3 312.5 91.5 316.3C92.7 320.1 93.5 323.6 94.2 327C94.9 330.4 95.5 334.9 95.8 336.5" fill="none" stroke="#58636d" stroke-width="2.4" stroke-linecap="round"/>
<path d="M79.5 387.3C79.3 388.2 79 390.3 78.2 392.8C77.4 395.3 75.8 399 74.8 402.2C73.8 405.4 72.9 408.9 72.2 412.2C71.5 415.5 70.8 419.4 70.5 422.2C70.2 425 70.1 427.3 70.2 429C70.3 430.7 70.7 431.5 71.2 432.2C71.7 432.9 72.2 433.2 73 433.3C73.8 433.4 74.3 433.7 75.7 432.5C77.1 431.3 79.7 428.9 81.5 426.2C83.3 423.5 85.1 419.9 86.8 416.2C88.5 412.5 90.3 408 91.5 404.2C92.7 400.4 93.5 396.9 94.2 393.5C94.9 390.1 95.5 385.6 95.8 384L95.8 374L79.5 374Z" fill="#fff"/>
<path d="M79.5 387.3C79.3 388.2 79 390.3 78.2 392.8C77.4 395.3 75.8 399 74.8 402.2C73.8 405.4 72.9 408.9 72.2 412.2C71.5 415.5 70.8 419.4 70.5 422.2C70.2 425 70.1 427.3 70.2 429C70.3 430.7 70.7 431.5 71.2 432.2C71.7 432.9 72.2 433.2 73 433.3C73.8 433.4 74.3 433.7 75.7 432.5C77.1 431.3 79.7 428.9 81.5 426.2C83.3 423.5 85.1 419.9 86.8 416.2C88.5 412.5 90.3 408 91.5 404.2C92.7 400.4 93.5 396.9 94.2 393.5C94.9 390.1 95.5 385.6 95.8 384" fill="none" stroke="#58636d" stroke-width="2.4" stroke-linecap="round"/>
<path d="M114.2 333.2C114 332.3 113.7 330.2 112.9 327.7C112.1 325.2 110.5 321.5 109.5 318.3C108.5 315.1 107.6 311.6 106.9 308.3C106.2 305 105.5 301.1 105.2 298.3C104.9 295.5 104.8 293.2 104.9 291.5C105 289.8 105.4 289 105.9 288.3C106.4 287.6 107 287.2 107.7 287.2C108.5 287.1 109 286.8 110.4 288C111.8 289.2 114.4 291.6 116.2 294.3C118 297 119.8 300.6 121.5 304.3C123.2 308 125 312.5 126.2 316.3C127.4 320.1 128.2 323.6 128.9 327C129.6 330.4 130.2 334.9 130.5 336.5L130.5 346L114.2 346Z" fill="#fff"/>
<path d="M114.2 333.2C114 332.3 113.7 330.2 112.9 327.7C112.1 325.2 110.5 321.5 109.5 318.3C108.5 315.1 107.6 311.6 106.9 308.3C106.2 305 105.5 301.1 105.2 298.3C104.9 295.5 104.8 293.2 104.9 291.5C105 289.8 105.4 289 105.9 288.3C106.4 287.6 107 287.2 107.7 287.2C108.5 287.1 109 286.8 110.4 288C111.8 289.2 114.4 291.6 116.2 294.3C118 297 119.8 300.6 121.5 304.3C123.2 308 125 312.5 126.2 316.3C127.4 320.1 128.2 323.6 128.9 327C129.6 330.4 130.2 334.9 130.5 336.5" fill="none" stroke="#58636d" stroke-width="2.4" stroke-linecap="round"/>
<path d="M114.2 387.3C114 388.2 113.7 390.3 112.9 392.8C112.1 395.3 110.5 399 109.5 402.2C108.5 405.4 107.6 408.9 106.9 412.2C106.2 415.5 105.5 419.4 105.2 422.2C104.9 425 104.8 427.3 104.9 429C105 430.7 105.4 431.5 105.9 432.2C106.4 432.9 107 433.2 107.7 433.3C108.5 433.4 109 433.7 110.4 432.5C111.8 431.3 114.4 428.9 116.2 426.2C118 423.5 119.8 419.9 121.5 416.2C123.2 412.5 125 408 126.2 404.2C127.4 400.4 128.2 396.9 128.9 393.5C129.6 390.1 130.2 385.6 130.5 384L130.5 374L114.2 374Z" fill="#fff"/>
<path d="M114.2 387.3C114 388.2 113.7 390.3 112.9 392.8C112.1 395.3 110.5 399 109.5 402.2C108.5 405.4 107.6 408.9 106.9 412.2C106.2 415.5 105.5 419.4 105.2 422.2C104.9 425 104.8 427.3 104.9 429C105 430.7 105.4 431.5 105.9 432.2C106.4 432.9 107 433.2 107.7 433.3C108.5 433.4 109 433.7 110.4 432.5C111.8 431.3 114.4 428.9 116.2 426.2C118 423.5 119.8 419.9 121.5 416.2C123.2 412.5 125 408 126.2 404.2C127.4 400.4 128.2 396.9 128.9 393.5C129.6 390.1 130.2 385.6 130.5 384" fill="none" stroke="#58636d" stroke-width="2.4" stroke-linecap="round"/>
<path d="M148.9 333.2C148.7 332.3 148.4 330.2 147.6 327.7C146.8 325.2 145.2 321.5 144.2 318.3C143.2 315.1 142.3 311.6 141.6 308.3C140.9 305 140.2 301.1 139.9 298.3C139.6 295.5 139.5 293.2 139.6 291.5C139.7 289.8 140.1 289 140.6 288.3C141.1 287.6 141.7 287.2 142.4 287.2C143.2 287.1 143.7 286.8 145.1 288C146.5 289.2 149.1 291.6 150.9 294.3C152.8 297 154.5 300.6 156.2 304.3C157.9 308 159.7 312.5 160.9 316.3C162.1 320.1 162.9 323.6 163.6 327C164.3 330.4 164.9 334.9 165.2 336.5L165.2 346L148.9 346Z" fill="#fff"/>
<path d="M148.9 333.2C148.7 332.3 148.4 330.2 147.6 327.7C146.8 325.2 145.2 321.5 144.2 318.3C143.2 315.1 142.3 311.6 141.6 308.3C140.9 305 140.2 301.1 139.9 298.3C139.6 295.5 139.5 293.2 139.6 291.5C139.7 289.8 140.1 289 140.6 288.3C141.1 287.6 141.7 287.2 142.4 287.2C143.2 287.1 143.7 286.8 145.1 288C146.5 289.2 149.1 291.6 150.9 294.3C152.8 297 154.5 300.6 156.2 304.3C157.9 308 159.7 312.5 160.9 316.3C162.1 320.1 162.9 323.6 163.6 327C164.3 330.4 164.9 334.9 165.2 336.5" fill="none" stroke="#58636d" stroke-width="2.4" stroke-linecap="round"/>
<path d="M148.9 387.3C148.7 388.2 148.4 390.3 147.6 392.8C146.8 395.3 145.2 399 144.2 402.2C143.2 405.4 142.3 408.9 141.6 412.2C140.9 415.5 140.2 419.4 139.9 422.2C139.6 425 139.5 427.3 139.6 429C139.7 430.7 140.1 431.5 140.6 432.2C141.1 432.9 141.7 433.2 142.4 433.3C143.2 433.4 143.7 433.7 145.1 432.5C146.5 431.3 149.1 428.9 150.9 426.2C152.8 423.5 154.5 419.9 156.2 416.2C157.9 412.5 159.7 408 160.9 404.2C162.1 400.4 162.9 396.9 163.6 393.5C164.3 390.1 164.9 385.6 165.2 384L165.2 374L148.9 374Z" fill="#fff"/>
<path d="M148.9 387.3C148.7 388.2 148.4 390.3 147.6 392.8C146.8 395.3 145.2 399 144.2 402.2C143.2 405.4 142.3 408.9 141.6 412.2C140.9 415.5 140.2 419.4 139.9 422.2C139.6 425 139.5 427.3 139.6 429C139.7 430.7 140.1 431.5 140.6 432.2C141.1 432.9 141.7 433.2 142.4 433.3C143.2 433.4 143.7 433.7 145.1 432.5C146.5 431.3 149.1 428.9 150.9 426.2C152.8 423.5 154.5 419.9 156.2 416.2C157.9 412.5 159.7 408 160.9 404.2C162.1 400.4 162.9 396.9 163.6 393.5C164.3 390.1 164.9 385.6 165.2 384" fill="none" stroke="#58636d" stroke-width="2.4" stroke-linecap="round"/>
<path d="M183.6 333.2C183.4 332.3 183.1 330.2 182.3 327.7C181.5 325.2 179.9 321.5 178.9 318.3C177.9 315.1 177 311.6 176.3 308.3C175.6 305 174.9 301.1 174.6 298.3C174.3 295.5 174.2 293.2 174.3 291.5C174.4 289.8 174.8 289 175.3 288.3C175.8 287.6 176.4 287.2 177.1 287.2C177.9 287.1 178.4 286.8 179.8 288C181.2 289.2 183.8 291.6 185.6 294.3C187.5 297 189.2 300.6 190.9 304.3C192.6 308 194.4 312.5 195.6 316.3C196.8 320.1 197.6 323.6 198.3 327C199 330.4 199.6 334.9 199.9 336.5L199.9 346L183.6 346Z" fill="#fff"/>
<path d="M183.6 333.2C183.4 332.3 183.1 330.2 182.3 327.7C181.5 325.2 179.9 321.5 178.9 318.3C177.9 315.1 177 311.6 176.3 308.3C175.6 305 174.9 301.1 174.6 298.3C174.3 295.5 174.2 293.2 174.3 291.5C174.4 289.8 174.8 289 175.3 288.3C175.8 287.6 176.4 287.2 177.1 287.2C177.9 287.1 178.4 286.8 179.8 288C181.2 289.2 183.8 291.6 185.6 294.3C187.5 297 189.2 300.6 190.9 304.3C192.6 308 194.4 312.5 195.6 316.3C196.8 320.1 197.6 323.6 198.3 327C199 330.4 199.6 334.9 199.9 336.5" fill="none" stroke="#58636d" stroke-width="2.4" stroke-linecap="round"/>
<path d="M183.6 387.3C183.4 388.2 183.1 390.3 182.3 392.8C181.5 395.3 179.9 399 178.9 402.2C177.9 405.4 177 408.9 176.3 412.2C175.6 415.5 174.9 419.4 174.6 422.2C174.3 425 174.2 427.3 174.3 429C174.4 430.7 174.8 431.5 175.3 432.2C175.8 432.9 176.4 433.2 177.1 433.3C177.9 433.4 178.4 433.7 179.8 432.5C181.2 431.3 183.8 428.9 185.6 426.2C187.5 423.5 189.2 419.9 190.9 416.2C192.6 412.5 194.4 408 195.6 404.2C196.8 400.4 197.6 396.9 198.3 393.5C199 390.1 199.6 385.6 199.9 384L199.9 374L183.6 374Z" fill="#fff"/>
<path d="M183.6 387.3C183.4 388.2 183.1 390.3 182.3 392.8C181.5 395.3 179.9 399 178.9 402.2C177.9 405.4 177 408.9 176.3 412.2C175.6 415.5 174.9 419.4 174.6 422.2C174.3 425 174.2 427.3 174.3 429C174.4 430.7 174.8 431.5 175.3 432.2C175.8 432.9 176.4 433.2 177.1 433.3C177.9 433.4 178.4 433.7 179.8 432.5C181.2 431.3 183.8 428.9 185.6 426.2C187.5 423.5 189.2 419.9 190.9 416.2C192.6 412.5 194.4 408 195.6 404.2C196.8 400.4 197.6 396.9 198.3 393.5C199 390.1 199.6 385.6 199.9 384" fill="none" stroke="#58636d" stroke-width="2.4" stroke-linecap="round"/>
<path d="M218.3 333.2C218.1 332.3 217.8 330.2 217 327.7C216.2 325.2 214.6 321.5 213.6 318.3C212.6 315.1 211.7 311.6 211 308.3C210.3 305 209.6 301.1 209.3 298.3C209 295.5 208.9 293.2 209 291.5C209.1 289.8 209.5 289 210 288.3C210.5 287.6 211.1 287.2 211.8 287.2C212.6 287.1 213.1 286.8 214.5 288C215.9 289.2 218.5 291.6 220.3 294.3C222.2 297 223.9 300.6 225.6 304.3C227.3 308 229.1 312.5 230.3 316.3C231.5 320.1 232.3 323.6 233 327C233.7 330.4 234.3 334.9 234.6 336.5L234.6 346L218.3 346Z" fill="#fff"/>
<path d="M218.3 333.2C218.1 332.3 217.8 330.2 217 327.7C216.2 325.2 214.6 321.5 213.6 318.3C212.6 315.1 211.7 311.6 211 308.3C210.3 305 209.6 301.1 209.3 298.3C209 295.5 208.9 293.2 209 291.5C209.1 289.8 209.5 289 210 288.3C210.5 287.6 211.1 287.2 211.8 287.2C212.6 287.1 213.1 286.8 214.5 288C215.9 289.2 218.5 291.6 220.3 294.3C222.2 297 223.9 300.6 225.6 304.3C227.3 308 229.1 312.5 230.3 316.3C231.5 320.1 232.3 323.6 233 327C233.7 330.4 234.3 334.9 234.6 336.5" fill="none" stroke="#58636d" stroke-width="2.4" stroke-linecap="round"/>
<path d="M218.3 387.3C218.1 388.2 217.8 390.3 217 392.8C216.2 395.3 214.6 399 213.6 402.2C212.6 405.4 211.7 408.9 211 412.2C210.3 415.5 209.6 419.4 209.3 422.2C209 425 208.9 427.3 209 429C209.1 430.7 209.5 431.5 210 432.2C210.5 432.9 211.1 433.2 211.8 433.3C212.6 433.4 213.1 433.7 214.5 432.5C215.9 431.3 218.5 428.9 220.3 426.2C222.2 423.5 223.9 419.9 225.6 416.2C227.3 412.5 229.1 408 230.3 404.2C231.5 400.4 232.3 396.9 233 393.5C233.7 390.1 234.3 385.6 234.6 384L234.6 374L218.3 374Z" fill="#fff"/>
<path d="M218.3 387.3C218.1 388.2 217.8 390.3 217 392.8C216.2 395.3 214.6 399 213.6 402.2C212.6 405.4 211.7 408.9 211 412.2C210.3 415.5 209.6 419.4 209.3 422.2C209 425 208.9 427.3 209 429C209.1 430.7 209.5 431.5 210 432.2C210.5 432.9 211.1 433.2 211.8 433.3C212.6 433.4 213.1 433.7 214.5 432.5C215.9 431.3 218.5 428.9 220.3 426.2C222.2 423.5 223.9 419.9 225.6 416.2C227.3 412.5 229.1 408 230.3 404.2C231.5 400.4 232.3 396.9 233 393.5C233.7 390.1 234.3 385.6 234.6 384" fill="none" stroke="#58636d" stroke-width="2.4" stroke-linecap="round"/>
<path d="M246 299C244.2 299 250.2 306.8 252 311C253.8 315.2 255.6 319.8 257 324C258.4 328.2 258 334 260.5 336C263 338 270.6 338 272 336C273.4 334 270.6 328.2 269 324C267.4 319.8 266.3 315.2 262.5 311C258.7 306.8 247.8 299 246 299Z" fill="#fff" stroke="#58636d" stroke-width="2.4"/>
<path d="M246 421C244.2 421 250.2 413.2 252 409C253.8 404.8 255.6 400.2 257 396C258.4 391.8 258 386 260.5 384C263 382 270.6 382 272 384C273.4 386 270.6 391.8 269 396C267.4 400.2 266.3 404.8 262.5 409C258.7 413.2 247.8 421 246 421Z" fill="#fff" stroke="#58636d" stroke-width="2.4"/>
<path d="M-1.3 339C0.7 336.5 5.2 336.5 7.2 339L7.2 380.5C5.2 383 0.7 383 -1.3 380.5Z" fill="#fff" stroke="#58636d" stroke-width="1.5"/>
<path d="M33.4 339C35.4 336.5 39.9 336.5 41.9 339L41.9 380.5C39.9 383 35.4 383 33.4 380.5Z" fill="#fff" stroke="#58636d" stroke-width="1.5"/>
<path d="M68.1 339C70.1 336.5 74.6 336.5 76.6 339L76.6 380.5C74.6 383 70.1 383 68.1 380.5Z" fill="#fff" stroke="#58636d" stroke-width="1.5"/>
<path d="M102.8 339C104.8 336.5 109.3 336.5 111.3 339L111.3 380.5C109.3 383 104.8 383 102.8 380.5Z" fill="#fff" stroke="#58636d" stroke-width="1.5"/>
<path d="M137.5 339C139.5 336.5 144 336.5 146 339L146 380.5C144 383 139.5 383 137.5 380.5Z" fill="#fff" stroke="#58636d" stroke-width="1.5"/>
<path d="M172.2 339C174.2 336.5 178.7 336.5 180.7 339L180.7 380.5C178.7 383 174.2 383 172.2 380.5Z" fill="#fff" stroke="#58636d" stroke-width="1.5"/>
<path d="M206.9 339C208.9 336.5 213.4 336.5 215.4 339L215.4 380.5C213.4 383 208.9 383 206.9 380.5Z" fill="#fff" stroke="#58636d" stroke-width="1.5"/>
<path d="M241.6 339C243.6 336.5 248.1 336.5 250.1 339L250.1 380.5C248.1 383 243.6 383 241.6 380.5Z" fill="#fff" stroke="#58636d" stroke-width="1.5"/>
<path d="M7.1 337.5C7.4 336.9 7.6 333.8 8.8 333.8C10 333.8 12.4 336.1 14.3 337.4C16.2 338.7 18.3 341.6 20.3 341.6C22.3 341.6 24.3 338.6 26.3 337.4C28.3 336.2 30.8 334.2 32.1 334.2C33.4 334.2 33.7 336.9 34 337.5C32.6 350 32.6 369 34 381.8C33.7 382.4 33.4 385.1 32.1 385.2C30.8 385.3 28.3 383.3 26.3 382.2C24.3 381.1 22.3 378.4 20.3 378.4C18.3 378.4 16.2 381 14.3 382.2C12.4 383.4 10 385.5 8.8 385.4C7.6 385.3 7.4 382.4 7.1 381.8C6.5 369 6.5 350 7.1 337.5Z" fill="#fff" stroke="#58636d" stroke-width="2.4" stroke-linejoin="round"/>
<path d="M41.8 337.5C42.1 336.9 42.3 333.8 43.5 333.8C44.7 333.8 47.1 336.1 49 337.4C50.9 338.7 53 341.6 55 341.6C57 341.6 59 338.6 61 337.4C63 336.2 65.5 334.2 66.8 334.2C68.1 334.2 68.4 336.9 68.7 337.5C67.3 350 67.3 369 68.7 381.8C68.4 382.4 68.1 385.1 66.8 385.2C65.5 385.3 63 383.3 61 382.2C59 381.1 57 378.4 55 378.4C53 378.4 50.9 381 49 382.2C47.1 383.4 44.7 385.5 43.5 385.4C42.3 385.3 42.1 382.4 41.8 381.8C41.2 369 41.2 350 41.8 337.5Z" fill="#fff" stroke="#58636d" stroke-width="2.4" stroke-linejoin="round"/>
<path d="M76.5 337.5C76.8 336.9 77 333.8 78.2 333.8C79.4 333.8 81.8 336.1 83.7 337.4C85.6 338.7 87.7 341.6 89.7 341.6C91.7 341.6 93.7 338.6 95.7 337.4C97.7 336.2 100.2 334.2 101.5 334.2C102.8 334.2 103.1 336.9 103.4 337.5C102 350 102 369 103.4 381.8C103.1 382.4 102.8 385.1 101.5 385.2C100.2 385.3 97.7 383.3 95.7 382.2C93.7 381.1 91.7 378.4 89.7 378.4C87.7 378.4 85.6 381 83.7 382.2C81.8 383.4 79.4 385.5 78.2 385.4C77 385.3 76.8 382.4 76.5 381.8C75.9 369 75.9 350 76.5 337.5Z" fill="#fff" stroke="#58636d" stroke-width="2.4" stroke-linejoin="round"/>
<path d="M111.2 337.5C111.5 336.9 111.7 333.8 112.9 333.8C114.1 333.8 116.5 336.1 118.4 337.4C120.3 338.7 122.4 341.6 124.4 341.6C126.4 341.6 128.4 338.6 130.4 337.4C132.4 336.2 134.9 334.2 136.2 334.2C137.5 334.2 137.8 336.9 138.1 337.5C136.7 350 136.7 369 138.1 381.8C137.8 382.4 137.5 385.1 136.2 385.2C134.9 385.3 132.4 383.3 130.4 382.2C128.4 381.1 126.4 378.4 124.4 378.4C122.4 378.4 120.3 381 118.4 382.2C116.5 383.4 114.1 385.5 112.9 385.4C111.7 385.3 111.5 382.4 111.2 381.8C110.6 369 110.6 350 111.2 337.5Z" fill="#fff" stroke="#58636d" stroke-width="2.4" stroke-linejoin="round"/>
<path d="M145.9 337.5C146.2 336.9 146.4 333.8 147.6 333.8C148.8 333.8 151.2 336.1 153.1 337.4C155 338.7 157.1 341.6 159.1 341.6C161.1 341.6 163.1 338.6 165.1 337.4C167.1 336.2 169.6 334.2 170.9 334.2C172.2 334.2 172.5 336.9 172.8 337.5C171.4 350 171.4 369 172.8 381.8C172.5 382.4 172.2 385.1 170.9 385.2C169.6 385.3 167.1 383.3 165.1 382.2C163.1 381.1 161.1 378.4 159.1 378.4C157.1 378.4 155 381 153.1 382.2C151.2 383.4 148.8 385.5 147.6 385.4C146.4 385.3 146.2 382.4 145.9 381.8C145.3 369 145.3 350 145.9 337.5Z" fill="#fff" stroke="#58636d" stroke-width="2.4" stroke-linejoin="round"/>
<path d="M180.6 337.5C180.9 336.9 181.1 333.8 182.3 333.8C183.5 333.8 185.9 336.1 187.8 337.4C189.7 338.7 191.8 341.6 193.8 341.6C195.8 341.6 197.8 338.6 199.8 337.4C201.8 336.2 204.3 334.2 205.6 334.2C206.9 334.2 207.2 336.9 207.5 337.5C206.1 350 206.1 369 207.5 381.8C207.2 382.4 206.9 385.1 205.6 385.2C204.3 385.3 201.8 383.3 199.8 382.2C197.8 381.1 195.8 378.4 193.8 378.4C191.8 378.4 189.7 381 187.8 382.2C185.9 383.4 183.5 385.5 182.3 385.4C181.1 385.3 180.9 382.4 180.6 381.8C180 369 180 350 180.6 337.5Z" fill="#fff" stroke="#58636d" stroke-width="2.4" stroke-linejoin="round"/>
<path d="M215.3 337.5C215.6 336.9 215.8 333.8 217 333.8C218.2 333.8 220.6 336.1 222.5 337.4C224.4 338.7 226.5 341.6 228.5 341.6C230.5 341.6 232.5 338.6 234.5 337.4C236.5 336.2 239 334.2 240.3 334.2C241.6 334.2 241.9 336.9 242.2 337.5C240.8 350 240.8 369 242.2 381.8C241.9 382.4 241.6 385.1 240.3 385.2C239 385.3 236.5 383.3 234.5 382.2C232.5 381.1 230.5 378.4 228.5 378.4C226.5 378.4 224.4 381 222.5 382.2C220.6 383.4 218.2 385.5 217 385.4C215.8 385.3 215.6 382.4 215.3 381.8C214.7 369 214.7 350 215.3 337.5Z" fill="#fff" stroke="#58636d" stroke-width="2.4" stroke-linejoin="round"/>
<path d="M402 192C407.3 190.7 414 192.3 420 192C426 191.7 432.7 189.7 438 190C443.3 190.3 449.2 191.3 452 194C454.8 196.7 456 201.7 455 206C454 210.3 447.8 214.3 446 220C444.2 225.7 445.5 233 444 240C442.5 247 438.5 256 437 262C435.5 268 434.3 270 435 276C435.7 282 438.7 290.3 441 298C443.3 305.7 447.1 313.5 449 322C450.9 330.5 452.2 340.5 452.5 349C452.8 357.5 452.1 365 451 373C449.9 381 448 389.3 446 397C444 404.7 440.3 412.5 439 419C437.7 425.5 437.3 429.8 438 436C438.7 442.2 441 449.2 443 456C445 462.8 448.3 469.7 450 477C451.7 484.3 449.7 495.5 453 500C456.3 504.5 465.5 500.7 470 504C474.5 507.3 478.7 515 480 520C481.3 525 480.7 531.3 478 534C475.3 536.7 468.3 534 464 536C459.7 538 457.7 546.7 452 546C446.3 545.3 437.8 534.3 430 532C422.2 529.7 413.3 542.3 405 532C396.7 521.7 380.8 485.3 380 470C379.2 454.7 394.7 451.7 400 440C405.3 428.3 409.3 413.3 412 400C414.7 386.7 415.3 373.3 416 360C416.7 346.7 417.3 331.7 416 320C414.7 308.3 412 299.7 408 290C404 280.3 396.7 272 392 262C387.3 252 380.7 240.3 380 230C379.3 219.7 384.3 206.3 388 200C391.7 193.7 396.7 193.3 402 192Z" fill="#fff"/>
<path d="M445 239C446.8 239.8 451.8 241.5 456 244C460.2 246.5 465.5 250 470 254C474.5 258 479.6 262 483 268C486.4 274 490 282.7 490.5 290C491 297.3 489.2 305.2 486 312C482.8 318.8 476.5 325.2 471 331C465.5 336.8 456 343.9 453 346.5L449.5 331Z" fill="#fff"/>
<path d="M437.5 261.5C438.9 262 442.9 263.1 446 264.5C449.1 265.9 452.5 267.2 456 270C459.5 272.8 464.2 276.7 467 281C469.8 285.3 472.2 291 472.5 296C472.8 301 471.2 306.5 469 311C466.8 315.5 462.2 319.7 459 323C455.8 326.3 451.1 329.7 449.5 331Z" fill="#dcedee"/>
<path d="M437.5 261.5C438.9 262 442.9 263.1 446 264.5C449.1 265.9 452.5 267.2 456 270C459.5 272.8 464.2 276.7 467 281C469.8 285.3 472.2 291 472.5 296C472.8 301 471.2 306.5 469 311C466.8 315.5 462.2 319.7 459 323C455.8 326.3 451.1 329.7 449.5 331C452.1 329.7 460.8 326.3 465 323C469.2 319.7 472.8 315.5 475 311C477.2 306.5 478.8 301 478.5 296C478.2 291 475.8 285.3 473 281C470.2 276.7 465.5 272.8 462 270C458.5 267.2 456.1 265.9 452 264.5C447.9 263.1 439.9 262 437.5 261.5Z" fill="#bcc3cd"/>
<path d="M437.5 261.5C438.9 262 442.9 263.1 446 264.5C449.1 265.9 452.5 267.2 456 270C459.5 272.8 464.2 276.7 467 281C469.8 285.3 472.2 291 472.5 296C472.8 301 471.2 306.5 469 311C466.8 315.5 462.2 319.7 459 323C455.8 326.3 451.1 329.7 449.5 331" fill="none" stroke="#111" stroke-width="2.2"/>
<path d="M445 239C446.8 239.8 451.8 241.5 456 244C460.2 246.5 465.5 250 470 254C474.5 258 479.6 262 483 268C486.4 274 490 282.7 490.5 290C491 297.3 489.2 305.2 486 312C482.8 318.8 476.5 325.2 471 331C465.5 336.8 456 343.9 453 346.5" fill="none" stroke="#58636d" stroke-width="2.5"/>
<path d="M452.5 374.5C455.4 376.1 464.1 379.4 470 384C475.9 388.6 483.2 395 488 402C492.8 409 496.7 418.3 499 426C501.3 433.7 502.8 441.2 502 448C501.2 454.8 498.5 461.7 494 467C489.5 472.3 481.9 476.2 475 480C468.1 483.8 456.2 487.9 452.5 489.5L444 469.5Z" fill="#fff"/>
<path d="M449.5 397.5C451.2 398.6 456.1 400.6 460 404C463.9 407.4 469.5 412.5 473 418C476.5 423.5 480.2 431.2 481 437C481.8 442.8 480.8 448.5 478 453C475.2 457.5 469.7 461.2 464 464C458.3 466.8 447.3 468.6 444 469.5Z" fill="#dcedee"/>
<path d="M449.5 397.5C451.2 398.6 456.1 400.6 460 404C463.9 407.4 469.5 412.5 473 418C476.5 423.5 480.2 431.2 481 437C481.8 442.8 480.8 448.5 478 453C475.2 457.5 469.7 461.2 464 464C458.3 466.8 447.3 468.6 444 469.5C448.3 468.6 463.3 466.8 470 464C476.7 461.2 481.2 457.5 484 453C486.8 448.5 487.8 442.8 487 437C486.2 431.2 482.5 423.5 479 418C475.5 412.5 470.9 407.4 466 404C461.1 400.6 452.2 398.6 449.5 397.5Z" fill="#bcc3cd"/>
<path d="M449.5 397.5C451.2 398.6 456.1 400.6 460 404C463.9 407.4 469.5 412.5 473 418C476.5 423.5 480.2 431.2 481 437C481.8 442.8 480.8 448.5 478 453C475.2 457.5 469.7 461.2 464 464C458.3 466.8 447.3 468.6 444 469.5" fill="none" stroke="#111" stroke-width="2.2"/>
<path d="M452.5 374.5C455.4 376.1 464.1 379.4 470 384C475.9 388.6 483.2 395 488 402C492.8 409 496.7 418.3 499 426C501.3 433.7 502.8 441.2 502 448C501.2 454.8 498.5 461.7 494 467C489.5 472.3 481.9 476.2 475 480C468.1 483.8 456.2 487.9 452.5 489.5" fill="none" stroke="#58636d" stroke-width="2.5"/>
<path d="M438 218C438.8 219.3 441.8 223 443 226C444.2 229 445 232 445 236C445 240 444.3 245.7 443 250C441.7 254.3 438.4 258.3 437 262C435.6 265.7 434.5 268.3 434.5 272C434.5 275.7 436 280 437 284C438 288 438.6 290 440.5 296C442.4 302 446.5 311.2 448.5 320C450.5 328.8 452.1 340.2 452.5 349C452.9 357.8 452.1 365 451 373C449.9 381 448 389.3 446 397C444 404.7 440.3 412.5 439 419C437.7 425.5 437.3 429.8 438 436C438.7 442.2 441 449.2 443 456C445 462.8 448.5 471.7 450 477C451.5 482.3 451.6 484 452 488C452.4 492 452.2 498.8 452.3 501" fill="none" stroke="#58636d" stroke-width="2.5" stroke-linecap="round"/>
<path d="M264 316C253 311.7 258.7 308.3 254 304C249.3 299.7 242.3 294.3 236 290C229.7 285.7 223 282.3 216 278C209 273.7 200 268.7 194 264C188 259.3 183.5 254.7 180 250C176.5 245.3 174.3 240.7 173 236C171.7 231.3 171.5 227 172 222C172.5 217 173 212.3 176 206C179 199.7 183.3 191 190 184C196.7 177 206 169 216 164C226 159 239.3 156.1 250 154C260.7 151.9 270 151.5 280 151.5C290 151.5 300 152.6 310 154C320 155.4 330 157.3 340 160C350 162.7 360.7 166.2 370 170C379.3 173.8 389.3 179 396 183C402.7 187 405.3 189.5 410 194C414.7 198.5 419.3 206 424 210C428.7 214 435.3 213 438 218C440.7 223 441.3 232.7 440 240C438.7 247.3 433.7 252 430 262C426.3 272 420 287.7 418 300C416 312.3 424.3 329.3 418 336C411.7 342.7 396.3 341 380 340C363.7 339 339.3 334 320 330C300.7 326 275 320.3 264 316Z" fill="#fff"/>
<path d="M264 316C262.3 314 258.7 308.3 254 304C249.3 299.7 242.3 294.3 236 290C229.7 285.7 223 282.3 216 278C209 273.7 200 268.7 194 264C188 259.3 183.5 254.7 180 250C176.5 245.3 174.3 240.7 173 236C171.7 231.3 171.5 227 172 222C172.5 217 173 212.3 176 206C179 199.7 183.3 191 190 184C196.7 177 206 169 216 164C226 159 239.3 156.1 250 154C260.7 151.9 270 151.5 280 151.5C290 151.5 300 152.6 310 154C320 155.4 330 157.3 340 160C350 162.7 360.7 166.2 370 170C379.3 173.8 389.3 179 396 183C402.7 187 405.3 189.5 410 194C414.7 198.5 419.3 206 424 210C428.7 214 435.7 216.7 438 218" fill="none" stroke="#58636d" stroke-width="2.5" stroke-linecap="round"/>
<path d="M264 406C249.7 409 251.3 414 244 418C236.7 422 227.3 426 220 430C212.7 434 206 437.3 200 442C194 446.7 188.2 452 184 458C179.8 464 176.7 471.7 175 478C173.3 484.3 173.2 490 174 496C174.8 502 176.7 507.7 180 514C183.3 520.3 188 527.3 194 534C200 540.7 208.3 548.3 216 554C223.7 559.7 232 564.5 240 568C248 571.5 255.7 573.8 264 575C272.3 576.2 281.7 576 290 575C298.3 574 306.7 571.8 314 569C321.3 566.2 327.3 561.7 334 558C340.7 554.3 348 549.8 354 547C360 544.2 364 542.6 370 541.5C376 540.4 384.3 540.5 390 540.5C395.7 540.5 400.1 541.4 404 541.3C407.9 541.2 410 540.5 413.3 540C416.6 539.5 420.9 538.3 424 538C427.1 537.7 429.3 537.8 432 538C434.7 538.2 437.3 538.5 440 539.3C442.7 540.1 446 541.2 448 542.7C450 544.2 451.7 555.1 452 548C452.3 540.9 452 518 450 500C448 482 445.8 460 440 440C434.2 420 433.3 386.7 415 380C396.7 373.3 355.2 395.7 330 400C304.8 404.3 278.3 403 264 406Z" fill="#fff"/>
<path d="M264 406C260.7 408 251.3 414 244 418C236.7 422 227.3 426 220 430C212.7 434 206 437.3 200 442C194 446.7 188.2 452 184 458C179.8 464 176.7 471.7 175 478C173.3 484.3 173.2 490 174 496C174.8 502 176.7 507.7 180 514C183.3 520.3 188 527.3 194 534C200 540.7 208.3 548.3 216 554C223.7 559.7 232 564.5 240 568C248 571.5 255.7 573.8 264 575C272.3 576.2 281.7 576 290 575C298.3 574 306.7 571.8 314 569C321.3 566.2 327.3 561.7 334 558C340.7 554.3 348 549.8 354 547C360 544.2 364 542.6 370 541.5C376 540.4 384.3 540.5 390 540.5C395.7 540.5 400.1 541.4 404 541.3C407.9 541.2 410 540.5 413.3 540C416.6 539.5 420.9 538.3 424 538C427.1 537.7 429.3 537.8 432 538C434.7 538.2 437.3 538.5 440 539.3C442.7 540.1 446 541.2 448 542.7C450 544.2 451.3 547.1 452 548" fill="none" stroke="#58636d" stroke-width="2.5" stroke-linecap="round"/>
<path d="M416.5 540C416.9 538.9 417.7 536 418.7 533.3C419.7 530.6 420.5 527.3 422.7 524C424.9 520.7 428.7 516.4 432 513.3C435.3 510.2 439.1 507.2 442.7 505.3C446.2 503.4 449.8 502.4 453.3 502C456.9 501.6 460.7 501.9 464 502.7C467.3 503.5 470.9 504.7 473.3 506.7C475.8 508.7 477.7 511.8 478.7 514.7C479.7 517.6 479.1 520.7 479.3 524C479.5 527.3 479.9 532.9 480 534.7" fill="none" stroke="#58636d" stroke-width="2.5" stroke-linecap="round"/>
<path d="M322 263C322 262.4 333.7 256.4 340 254.5C346.3 252.6 353.3 251.5 360 251.5C366.7 251.5 374 252.5 380 254.5C386 256.5 391.2 259.4 396 263.5C400.8 267.6 405.3 273.4 408.5 279C411.7 284.6 413.4 291 415 297C416.6 303 417.5 309 418 315C418.5 321 419.5 334.7 418 333C416.5 331.3 412.3 313.5 409 305C405.7 296.5 402.8 288.5 398 282C393.2 275.5 386.3 270 380 266C373.7 262 366.7 259.3 360 258C353.3 256.7 346.3 257.2 340 258C333.7 258.8 322 263.6 322 263Z" fill="#bcc3cd"/>
<path d="M326 442C325 443.3 334.3 451.4 340 454C345.7 456.6 353.3 457.8 360 457.5C366.7 457.2 374 455.2 380 452C386 448.8 391.8 443.3 396 438C400.2 432.7 403 425.7 405 420C407 414.3 409.7 403.2 408 404C406.3 404.8 401.3 418.8 395 425C388.7 431.2 378.2 437.5 370 441C361.8 444.5 353.3 445.8 346 446C338.7 446.2 327 440.7 326 442Z" fill="#bcc3cd"/>
<path d="M265 316C266.3 312.2 267.8 311.2 270 309C272.2 306.8 273.2 304.7 278 302.5C282.8 300.3 291.9 297.2 299 296C306.1 294.8 315.2 294.7 320.5 295.5C325.8 296.3 327.4 298.5 331 301C334.6 303.5 338 306.9 342 310.5C346 314.1 350.2 319.2 355 322.5C359.8 325.8 365.2 328.5 371 330C376.8 331.5 385 330.9 390 331.5C395 332.1 397.8 332.4 401 333.5C404.2 334.6 406.4 338 409 338C411.6 338 415.5 329.8 416.8 333.5C418.1 337.2 417.5 352.2 417 360C416.5 367.8 415.8 376.5 414 380C412.2 383.5 409 379.7 406 381C403 382.3 399.3 386.2 396 388C392.7 389.8 390.3 391.7 386 392C381.7 392.3 374.7 389.7 370 390C365.3 390.3 362 391.7 358 394C354 396.3 350.7 399.7 346 404C341.3 408.3 335.7 415.5 330 420C324.3 424.5 318 429.7 312 431C306 432.3 299.3 429.5 294 428C288.7 426.5 284 424.3 280 422C276 419.7 272.7 416.8 270 414C267.3 411.2 265.3 409 264 405C262.7 401 262.3 402.2 262 390C261.7 377.8 261.5 344.3 262 332C262.5 319.7 263.7 319.8 265 316Z" fill="#fff"/>
<path d="M265 316C265.8 314.8 267.8 311.2 270 309C272.2 306.8 273.2 304.7 278 302.5C282.8 300.3 291.9 297.2 299 296C306.1 294.8 316.9 295.6 320.5 295.5" fill="none" stroke="#58636d" stroke-width="2.5" stroke-linecap="round"/>
<path d="M312 431C309 430.5 299.3 429.5 294 428C288.7 426.5 284 424.3 280 422C276 419.7 272.7 416.8 270 414C267.3 411.2 265 406.5 264 405" fill="none" stroke="#58636d" stroke-width="2.5" stroke-linecap="round"/>
<path d="M310 292C308.7 288.9 310.3 281.7 312.5 277C314.7 272.3 318.1 267.4 323 264C327.9 260.6 335.3 257.6 342 256.5C348.7 255.4 355.9 255.8 363 257.5C370.1 259.2 378.2 262.8 384.5 267C390.8 271.2 396.1 276.8 400.5 283C404.9 289.2 408.4 297 411 304C413.6 311 415 320.1 416 325C417 329.9 418 331.3 416.8 333.5C415.6 335.7 411.6 338 409 338C406.4 338 404.2 334.6 401 333.5C397.8 332.4 395 332.1 390 331.5C385 330.9 376.8 331.5 371 330C365.2 328.5 359.8 325.8 355 322.5C350.2 319.2 346 314.1 342 310.5C338 306.9 334.6 303.5 331 301C327.4 298.5 324 297 320.5 295.5C317 294 311.3 295.1 310 292Z" fill="#dcedee" stroke="#58636d" stroke-width="2.5" stroke-linejoin="round"/>
<path d="M312.5 277C314.2 274.8 318.1 267.4 323 264C327.9 260.6 335.3 257.6 342 256.5C348.7 255.4 355.9 255.8 363 257.5C370.1 259.2 378.2 262.8 384.5 267C390.8 271.2 396.1 276.8 400.5 283C404.9 289.2 408.4 297 411 304C413.6 311 415 320.1 416 325C417 329.9 416.7 332.1 416.8 333.5" fill="none" stroke="#111" stroke-width="2.2"/>
<path d="M312 431C312.7 427.3 324.3 424.5 330 420C335.7 415.5 341.3 408.3 346 404C350.7 399.7 354 396.3 358 394C362 391.7 365.3 390.3 370 390C374.7 389.7 381.7 392.3 386 392C390.3 391.7 392.7 389.8 396 388C399.3 386.2 403 382.3 406 381C409 379.7 413 378.3 414 380C415 381.7 413.3 386 412 391C410.7 396 409.7 403.5 406 410C402.3 416.5 396 424.7 390 430C384 435.3 377.3 439.2 370 442C362.7 444.8 353.3 447 346 447C338.7 447 331.7 444.7 326 442C320.3 439.3 311.3 434.7 312 431Z" fill="#dcedee" stroke="#58636d" stroke-width="2.5" stroke-linejoin="round"/>
<path d="M412 391C411 394.2 409.7 403.5 406 410C402.3 416.5 396 424.7 390 430C384 435.3 377.3 439.2 370 442C362.7 444.8 353.3 447 346 447C338.7 447 331.7 444.7 326 442C320.3 439.3 314.3 432.8 312 431" fill="none" stroke="#111" stroke-width="2.2"/>
<path d="M250 337.5C250.3 336.9 250.5 333.8 251.7 333.8C252.9 333.8 255.3 336.1 257.2 337.4C259.1 338.7 261.2 341.6 263.2 341.6C265.2 341.6 267.5 338.6 269.2 337.4C271 336.2 273 335 273.7 334.5C282.7 344 282.7 376 273.7 385C273 384.5 271 383.3 269.2 382.2C267.5 381.1 265.2 378.4 263.2 378.4C261.2 378.4 259.1 381 257.2 382.2C255.3 383.4 252.9 385.5 251.7 385.4C250.5 385.3 250.3 382.4 250 381.8C249.4 369 249.4 350 250 337.5Z" fill="#fff" stroke="#58636d" stroke-width="2.4" stroke-linejoin="round"/></g>
<path d="M440 914C440.4 912.9 440.9 909.3 442.7 907.3C444.5 905.3 447.1 903.4 450.7 902C454.2 900.6 459.1 899.4 464 899C468.9 898.6 474 898.9 480 899.6C486 900.3 492.2 901.3 500 903.3C507.8 905.2 516.7 907.7 526.7 911.3C536.7 914.9 546.1 919 560 925C573.9 931 593.3 939.5 610 947C626.7 954.5 643.3 963.2 660 970C676.7 976.8 693.3 982.7 710 988C726.7 993.3 743.3 997.3 760 1002C776.7 1006.7 793.3 1010.8 810 1016C826.7 1021.2 846.7 1029 860 1033C873.3 1037 881.2 1038.7 890 1040C898.8 1041.3 904.7 1041.7 913 1041C921.3 1040.3 931 1037.7 940 1036C949 1034.3 959.6 1031.4 966.7 1030.7C973.8 1030 977.8 1029.8 982.7 1032C987.6 1034.2 993.3 1039.3 996 1044C998.7 1048.7 999.2 1053.8 998.7 1060C998.2 1066.2 993.5 1073.9 993 1081C992.5 1088.1 996.8 1096.4 996 1102.7C995.2 1109 992 1115.2 988 1118.7C984 1122.2 977.8 1124 972 1124C966.2 1124 956.2 1119.6 953 1118.7C946.3 1115.9 928.5 1109.1 913 1102C897.5 1094.9 877.2 1083.3 860 1076C842.8 1068.7 826.7 1064 810 1058C793.3 1052 776.7 1046 760 1040C743.3 1034 726.7 1028 710 1022C693.3 1016 676.7 1009.9 660 1004C643.3 998.1 623.3 990.8 610 986.5C596.7 982.2 588.3 980.1 580 978C571.7 975.9 568.9 975.2 560 974C551.1 972.8 535.6 971.5 526.7 970.7C517.8 969.9 511.8 970 506.7 969.3C501.6 968.6 499.3 967.9 496 966.7C492.7 965.5 489.4 963.9 486.7 962C484 960.1 482 957.1 480 955.3C478 953.5 476.5 951.7 474.7 951.3C472.9 950.9 470.9 951.4 469.3 952.7C467.7 954 466.2 956.9 465.3 959.3C464.4 961.7 464 964.4 464 967.3C464 970.2 465.8 973.8 465.3 976.7C464.9 979.6 463.3 982.7 461.3 984.7C459.3 986.7 456.2 988 453.3 988.7C450.4 989.4 445.6 989 444 989C443.1 987.6 441.2 983.9 438.7 980.7C436.2 977.5 432.1 973.1 429 970C425.9 966.9 422.7 964.5 420 962C417.3 959.5 415.4 957.2 413 955C410.6 952.8 406.6 949.8 405.3 948.7C406.6 948.9 410.4 949.6 413.3 950C416.2 950.4 419.8 951.5 422.7 951.3C425.6 951.1 428.3 950.2 430.7 948.7C433.1 947.2 435.6 944.7 437.3 942C439 939.3 440.2 935.8 440.7 932.7C441.1 929.6 440.1 926.4 440 923.3C439.9 920.2 440 915.5 440 914Z" fill="#fff" stroke="#58636d" stroke-width="2.5" stroke-linejoin="round"/>
<path d="M461.3 960.7C461.9 960.7 464.1 960.7 464.7 960.7" fill="none" stroke="#58636d" stroke-width="2.5" stroke-linecap="round"/>
<path d="M996 1046C997.5 1044.2 1003.3 1050.3 1008 1051C1012.7 1051.7 1018.7 1049.3 1024 1050C1029.3 1050.7 1036.2 1052.5 1040 1055C1043.8 1057.5 1046 1061.2 1047 1065C1048 1068.8 1045.3 1073.8 1046 1078C1046.7 1082.2 1050.7 1086 1051 1090C1051.3 1094 1049.8 1098.7 1048 1102C1046.2 1105.3 1044.3 1107.7 1040 1110C1035.7 1112.3 1028 1115.7 1022 1116C1016 1116.3 1008.5 1114.7 1004 1112C999.5 1109.3 996.8 1105.2 995 1100C993.2 1094.8 992.4 1087.3 993 1081C993.6 1074.7 998.2 1067.8 998.7 1062C999.2 1056.2 994.5 1047.8 996 1046Z" fill="#fff" stroke="#58636d" stroke-width="2.5" stroke-linejoin="round"/>
<path d="M1048 1064C1049.5 1061.2 1047.3 1058.5 1056 1058C1064.7 1057.5 1079.3 1060.3 1100 1061C1120.7 1061.7 1156.7 1060.7 1180 1062C1203.3 1063.3 1220 1066.2 1240 1069C1260 1071.8 1273.3 1073.5 1300 1079C1326.7 1084.5 1373.3 1095.2 1400 1102C1426.7 1108.8 1442.7 1114.7 1460 1120C1477.3 1125.3 1496.7 1128 1504 1134C1511.3 1140 1509.2 1154.3 1504 1156C1498.8 1157.7 1482.5 1147.1 1473 1144C1463.5 1140.9 1459.2 1140.8 1447 1137.5C1434.8 1134.2 1413.3 1127.6 1400 1124C1386.7 1120.4 1383.7 1119.7 1367 1116C1350.3 1112.3 1317.8 1105.4 1300 1102C1282.2 1098.6 1276.7 1098.2 1260 1095.5C1243.3 1092.8 1217.8 1088.6 1200 1086C1182.2 1083.4 1169.7 1080.8 1153 1080C1136.3 1079.2 1116.2 1080.7 1100 1081C1083.8 1081.3 1064.8 1083 1056 1082C1047.2 1081 1048.3 1078 1047 1075C1045.7 1072 1046.5 1066.8 1048 1064Z" fill="#fff" stroke="#58636d" stroke-width="2.5" stroke-linejoin="round"/>
<path d="M1050 1082C1051.7 1078.7 1051.7 1080 1060 1080C1068.3 1080 1088.8 1079.5 1100 1082C1111.2 1084.5 1109.2 1089.5 1127 1094.7C1144.8 1099.9 1178.2 1106.3 1207 1113C1235.8 1119.7 1274.5 1128.5 1300 1134.7C1325.5 1140.9 1368.8 1146.3 1360 1150C1351.2 1153.7 1272.5 1158.4 1247 1156.7C1221.5 1155 1222.7 1144.3 1207 1140C1191.3 1135.7 1168.7 1132.7 1153 1130.7C1137.3 1128.7 1125.2 1127.5 1113 1128C1100.8 1128.5 1088.5 1133.7 1080 1134C1071.5 1134.3 1067.7 1133 1062 1130C1056.3 1127 1048 1121 1046 1116C1044 1111 1049.3 1105.7 1050 1100C1050.7 1094.3 1048.3 1085.3 1050 1082Z" fill="#fff" stroke="#58636d" stroke-width="2.5" stroke-linejoin="round"/>
<path d="M1165 1113L1290 1133M1195 1130L1310 1138" fill="none" stroke="#d9dfea" stroke-width="2.6" stroke-linecap="round"/>
<path d="M968 1145.9C973.3 1145 991.3 1141.4 1000 1140.2C1008.7 1139 1007.8 1138.7 1020 1138.7C1032.2 1138.7 1059.7 1138.6 1073 1140C1086.3 1141.4 1086.7 1144.2 1100 1147C1113.3 1149.8 1135.2 1155.7 1153 1157C1170.8 1158.3 1188.3 1156.9 1207 1154.7C1225.7 1152.5 1242.8 1147 1265 1144C1287.2 1141 1314.2 1137.7 1340 1137C1365.8 1136.3 1393 1137.5 1420 1140C1447 1142.5 1488.3 1150 1502 1152L1502 1200L1060 1200L990 1160Z" fill="#dcedee"/>
<path d="M968 1145.9C973.3 1145 991.3 1141.4 1000 1140.2C1008.7 1139 1007.8 1138.7 1020 1138.7C1032.2 1138.7 1059.7 1138.6 1073 1140C1086.3 1141.4 1086.7 1144.2 1100 1147C1113.3 1149.8 1135.2 1155.7 1153 1157C1170.8 1158.3 1188.3 1156.9 1207 1154.7C1225.7 1152.5 1242.8 1147 1265 1144C1287.2 1141 1314.2 1137.7 1340 1137C1365.8 1136.3 1393 1137.5 1420 1140C1447 1142.5 1488.3 1150 1502 1152" fill="none" stroke="#000" stroke-width="5.3" stroke-linecap="round" stroke-linejoin="round"/>
<path d="M968 1145.9L946.7 1141.3L893.3 1130.7" fill="none" stroke="#000" stroke-width="5.3" stroke-linecap="round" stroke-linejoin="round"/>
<path d="M480 1296.7C480.4 1297.6 481.4 1300.9 482.7 1302C484 1303.1 486.2 1303.8 488 1303.3C489.8 1302.8 490.6 1301.1 493.3 1299.3C496 1297.5 499.6 1294.5 504 1292.7C508.4 1290.9 510.7 1289.5 520 1288.7C529.3 1287.9 545 1288.8 560 1288C575 1287.2 596.7 1286.2 610 1284C623.3 1281.8 628.3 1278.5 640 1275C651.7 1271.5 666.7 1267 680 1263C693.3 1259 706.7 1255 720 1251C733.3 1247 746.7 1242.5 760 1239C773.3 1235.5 786.7 1233.3 800 1230C813.3 1226.7 826.7 1223.2 840 1219C853.3 1214.8 866.7 1209.6 880 1204.8C893.3 1200 908 1195.2 920 1190.4C932 1185.6 942.7 1180 952 1176C961.3 1172 969.3 1168.5 976 1166.4C982.7 1164.3 986.9 1163.2 992 1163.2C997.1 1163.2 1002.7 1164.5 1006.4 1166.4C1010.1 1168.3 1012.5 1170.9 1014.4 1174.4C1016.3 1177.9 1017.5 1182.4 1017.6 1187.2C1017.7 1192 1015.7 1198.4 1015.2 1203.2C1014.7 1208 1013.9 1211.7 1014.4 1216C1014.9 1220.3 1017.6 1224.8 1018.4 1228.8C1019.2 1232.8 1019.9 1236.5 1019.2 1240C1018.5 1243.5 1016.8 1247.1 1014.4 1249.6C1012 1252.1 1008.5 1254 1004.8 1255.2C1001.1 1256.4 994.1 1256.5 992 1256.8C989.3 1256.3 981.3 1255.1 976 1253.6C970.7 1252.1 965.3 1249.6 960 1248C954.7 1246.4 949.3 1245.1 944 1244C938.7 1242.9 933.3 1242 928 1241.6C922.7 1241.2 920 1240.8 912 1241.6C904 1242.4 892 1244 880 1246.4C868 1248.8 853.3 1252.7 840 1256C826.7 1259.3 813.3 1263.2 800 1266.4C786.7 1269.6 775 1271.4 760 1275C745 1278.6 726.7 1283.5 710 1288C693.3 1292.5 676.7 1296.7 660 1302C643.3 1307.3 626.7 1313.8 610 1320C593.3 1326.2 572.8 1334.2 560 1339C547.2 1343.8 542.2 1346.2 533.3 1348.7C524.4 1351.2 514.5 1352.8 506.7 1354C498.9 1355.2 492.3 1356 486.7 1356C481.1 1356 477.5 1355 473.3 1354C469.1 1353 464.6 1351.8 461.3 1350C458 1348.2 455.1 1345.8 453.3 1343.3C451.5 1340.8 450.9 1338 450.7 1335.3C450.5 1332.6 451.3 1330 452 1327.3C452.7 1324.6 454.5 1322 454.7 1319.3C454.9 1316.6 454.4 1313.7 453.3 1311.3C452.2 1308.9 448.9 1305.8 448 1304.7C449.3 1303.8 452.9 1300.9 456 1299.3C459.1 1297.7 463.1 1296.2 466.7 1295.3C470.2 1294.4 475.1 1293.8 477.3 1294C479.5 1294.2 479.6 1296.2 480 1296.7Z" fill="#fff" stroke="#58636d" stroke-width="2.5" stroke-linejoin="round"/>
<path d="M1014 1200C1015.2 1192.7 1016.3 1184.3 1020 1180C1023.7 1175.7 1030 1174.3 1036 1174C1042 1173.7 1051 1175.3 1056 1178C1061 1180.7 1064.7 1185.7 1066 1190C1067.3 1194.3 1063.3 1200 1064 1204C1064.7 1208 1069.3 1210 1070 1214C1070.7 1218 1069.3 1224 1068 1228C1066.7 1232 1066.7 1235.3 1062 1238C1057.3 1240.7 1047 1243.7 1040 1244C1033 1244.3 1024.5 1243.3 1020 1240C1015.5 1236.7 1014 1230.7 1013 1224C1012 1217.3 1012.8 1207.3 1014 1200Z" fill="#fff" stroke="#58636d" stroke-width="2.5" stroke-linejoin="round"/>
<path d="M1070 1178C1070.3 1174 1072.7 1169 1076 1166C1079.3 1163 1086 1161.7 1090 1160C1094 1158.3 1089.5 1154.5 1100 1156C1110.5 1157.5 1135.2 1165.7 1153 1169C1170.8 1172.3 1180.3 1175.3 1207 1176C1233.7 1176.7 1277.5 1174.5 1313 1173C1348.5 1171.5 1388.5 1168.9 1420 1166.7C1451.5 1164.5 1488.3 1156 1502 1160C1515.7 1164 1520.2 1185.4 1502 1190.7C1483.8 1196 1428.8 1191 1393 1192C1357.2 1193 1322.5 1194.5 1287 1197C1251.5 1199.5 1209.8 1203.5 1180 1206.7C1150.2 1209.9 1124.7 1214.8 1108 1216C1091.3 1217.2 1086.3 1216 1080 1214C1073.7 1212 1071 1208 1070 1204C1069 1200 1074 1194.3 1074 1190C1074 1185.7 1069.7 1182 1070 1178Z" fill="#fff" stroke="#58636d" stroke-width="2.5" stroke-linejoin="round"/>
<path d="M1068 1218C1070.3 1215 1073.3 1214.2 1080 1214C1086.7 1213.8 1098 1214.9 1108 1217C1118 1219.1 1119.2 1224.7 1140 1226.7C1160.8 1228.7 1199.7 1229.7 1233 1229C1266.3 1228.3 1304.3 1225.8 1340 1222.7C1375.7 1219.7 1420 1214.3 1447 1210.7C1474 1207.1 1492.8 1198 1502 1201C1511.2 1204 1506.8 1223.7 1502 1229C1497.2 1234.3 1491.2 1231 1473 1233C1454.8 1235 1424 1238.5 1393 1241C1362 1243.5 1322.5 1247 1287 1248C1251.5 1249 1211.2 1248 1180 1246.7C1148.8 1245.4 1117.5 1241.1 1100 1240C1082.5 1238.9 1080.7 1241.3 1075 1240C1069.3 1238.7 1067.2 1235.7 1066 1232C1064.8 1228.3 1065.7 1221 1068 1218Z" fill="#fff" stroke="#58636d" stroke-width="2.5" stroke-linejoin="round"/>
<path d="M1215 1183L1500 1172M1195 1196L1420 1183" fill="none" stroke="#d9dfea" stroke-width="2.6" stroke-linecap="round"/>
<g filter="url(#bl6)" opacity="0.85" fill="none" stroke="#ffd6d1" stroke-width="15" style="mix-blend-mode:multiply"><circle cx="444.7" cy="963" r="38.3"/><circle cx="444.7" cy="963" r="68.5"/><circle cx="444.7" cy="963" r="27" fill="#ffd6d1" stroke="none"/><circle cx="446.8" cy="1285" r="38.3"/><circle cx="446.8" cy="1285" r="68.5"/><circle cx="446.8" cy="1285" r="27" fill="#ffd6d1" stroke="none"/><circle cx="1024" cy="1083" r="38.3"/><circle cx="1024" cy="1083" r="68.5"/><circle cx="1024" cy="1083" r="27" fill="#ffd6d1" stroke="none"/><circle cx="1037" cy="1218" r="38.3"/><circle cx="1037" cy="1218" r="68.5"/><circle cx="1037" cy="1218" r="27" fill="#ffd6d1" stroke="none"/></g>
<g filter="url(#bl6)" opacity="0.8" fill="none" stroke="#ff9088" stroke-width="0" style="mix-blend-mode:multiply"><circle cx="444.7" cy="963" r="38.3"/><circle cx="444.7" cy="963" r="68.5"/><circle cx="444.7" cy="963" r="21" fill="#ff9088" stroke="none"/><circle cx="446.8" cy="1285" r="38.3"/><circle cx="446.8" cy="1285" r="68.5"/><circle cx="446.8" cy="1285" r="21" fill="#ff9088" stroke="none"/><circle cx="1024" cy="1083" r="38.3"/><circle cx="1024" cy="1083" r="68.5"/><circle cx="1024" cy="1083" r="21" fill="#ff9088" stroke="none"/><circle cx="1037" cy="1218" r="38.3"/><circle cx="1037" cy="1218" r="68.5"/><circle cx="1037" cy="1218" r="21" fill="#ff9088" stroke="none"/></g>
<circle cx="444.7" cy="963" r="17.4" fill="#e41e25"/>
<circle cx="444.7" cy="963" r="38.3" fill="none" stroke="#e41e25" stroke-width="5.1" stroke-dasharray="9.9 14.165" stroke-linecap="round"/>
<circle cx="444.7" cy="963" r="68.5" fill="none" stroke="#e41e25" stroke-width="5.1" stroke-dasharray="9.9 14.011" stroke-linecap="round"/>
<circle cx="446.8" cy="1285" r="17.4" fill="#e41e25"/>
<circle cx="446.8" cy="1285" r="38.3" fill="none" stroke="#e41e25" stroke-width="5.1" stroke-dasharray="9.9 14.165" stroke-linecap="round"/>
<circle cx="446.8" cy="1285" r="68.5" fill="none" stroke="#e41e25" stroke-width="5.1" stroke-dasharray="9.9 14.011" stroke-linecap="round"/>
<circle cx="1024" cy="1083" r="17.4" fill="#e41e25"/>
<circle cx="1024" cy="1083" r="38.3" fill="none" stroke="#e41e25" stroke-width="5.1" stroke-dasharray="9.9 14.165" stroke-linecap="round"/>
<circle cx="1024" cy="1083" r="68.5" fill="none" stroke="#e41e25" stroke-width="5.1" stroke-dasharray="9.9 14.011" stroke-linecap="round"/>
<circle cx="1037" cy="1218" r="17.4" fill="#e41e25"/>
<circle cx="1037" cy="1218" r="38.3" fill="none" stroke="#e41e25" stroke-width="5.1" stroke-dasharray="9.9 14.165" stroke-linecap="round"/>
<circle cx="1037" cy="1218" r="68.5" fill="none" stroke="#e41e25" stroke-width="5.1" stroke-dasharray="9.9 14.011" stroke-linecap="round"/>
</g>
</svg>
</body></html>
